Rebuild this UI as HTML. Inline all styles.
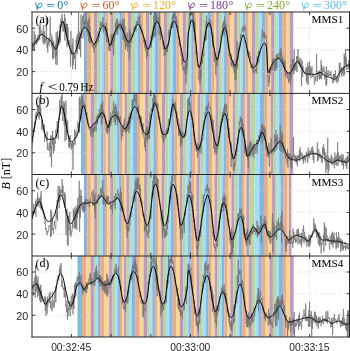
<!DOCTYPE html>
<html><head><meta charset="utf-8"><style>
html,body{margin:0;padding:0;background:#fff;}
body{width:350px;height:351px;position:relative;overflow:hidden;}
</style></head><body>
<svg width="350" height="351" viewBox="0 0 350 351" style="position:absolute;left:0;top:0;will-change:transform">
<defs>
<clipPath id="ca"><rect x="32.0" y="12.0" width="317.5" height="81.25"/></clipPath>
<clipPath id="cb"><rect x="32.0" y="93.25" width="317.5" height="81.25"/></clipPath>
<clipPath id="cc"><rect x="32.0" y="174.5" width="317.5" height="81.25"/></clipPath>
<clipPath id="cd"><rect x="32.0" y="255.75" width="317.5" height="81.25"/></clipPath>
</defs>
<rect x="84" y="12.0" width="3.1" height="81.25" fill="#80b8de"/>
<rect x="87.1" y="12.0" width="3.9" height="81.25" fill="#eca98c"/>
<rect x="90.9" y="12.0" width="3" height="81.25" fill="#f6d890"/>
<rect x="93.9" y="12.0" width="3.2" height="81.25" fill="#be97c6"/>
<rect x="97.1" y="12.0" width="3.3" height="81.25" fill="#bbd698"/>
<rect x="100.3" y="12.0" width="3.2" height="81.25" fill="#a6def6"/>
<rect x="103.4" y="12.0" width="2" height="81.25" fill="#80b8de"/>
<rect x="105.4" y="12.0" width="2.9" height="81.25" fill="#eca98c"/>
<rect x="108.3" y="12.0" width="2" height="81.25" fill="#f6d890"/>
<rect x="110.3" y="12.0" width="2.8" height="81.25" fill="#be97c6"/>
<rect x="113.1" y="12.0" width="3.5" height="81.25" fill="#bbd698"/>
<rect x="116.5" y="12.0" width="3.1" height="81.25" fill="#a6def6"/>
<rect x="119.6" y="12.0" width="2.9" height="81.25" fill="#80b8de"/>
<rect x="122.4" y="12.0" width="2.9" height="81.25" fill="#eca98c"/>
<rect x="125.3" y="12.0" width="2.5" height="81.25" fill="#f6d890"/>
<rect x="127.8" y="12.0" width="3.3" height="81.25" fill="#be97c6"/>
<rect x="131" y="12.0" width="4" height="81.25" fill="#bbd698"/>
<rect x="135" y="12.0" width="3" height="81.25" fill="#a6def6"/>
<rect x="137.9" y="12.0" width="2.2" height="81.25" fill="#80b8de"/>
<rect x="140.1" y="12.0" width="3.5" height="81.25" fill="#eca98c"/>
<rect x="143.6" y="12.0" width="2.5" height="81.25" fill="#f6d890"/>
<rect x="146" y="12.0" width="3.4" height="81.25" fill="#be97c6"/>
<rect x="149.3" y="12.0" width="3.2" height="81.25" fill="#bbd698"/>
<rect x="152.5" y="12.0" width="2.6" height="81.25" fill="#a6def6"/>
<rect x="155.1" y="12.0" width="3.5" height="81.25" fill="#80b8de"/>
<rect x="158.6" y="12.0" width="2.6" height="81.25" fill="#eca98c"/>
<rect x="161.2" y="12.0" width="2.5" height="81.25" fill="#f6d890"/>
<rect x="163.7" y="12.0" width="3.3" height="81.25" fill="#be97c6"/>
<rect x="166.9" y="12.0" width="3.5" height="81.25" fill="#bbd698"/>
<rect x="170.3" y="12.0" width="2.6" height="81.25" fill="#a6def6"/>
<rect x="172.9" y="12.0" width="3.5" height="81.25" fill="#80b8de"/>
<rect x="176.3" y="12.0" width="3.2" height="81.25" fill="#eca98c"/>
<rect x="179.5" y="12.0" width="3.5" height="81.25" fill="#f6d890"/>
<rect x="182.9" y="12.0" width="3.3" height="81.25" fill="#be97c6"/>
<rect x="186.2" y="12.0" width="2.9" height="81.25" fill="#bbd698"/>
<rect x="189" y="12.0" width="2.4" height="81.25" fill="#a6def6"/>
<rect x="191.3" y="12.0" width="2.3" height="81.25" fill="#80b8de"/>
<rect x="193.6" y="12.0" width="2.9" height="81.25" fill="#eca98c"/>
<rect x="196.4" y="12.0" width="3" height="81.25" fill="#f6d890"/>
<rect x="199.3" y="12.0" width="2.8" height="81.25" fill="#be97c6"/>
<rect x="202.1" y="12.0" width="3.3" height="81.25" fill="#bbd698"/>
<rect x="205.3" y="12.0" width="2.6" height="81.25" fill="#a6def6"/>
<rect x="207.9" y="12.0" width="3.5" height="81.25" fill="#80b8de"/>
<rect x="211.3" y="12.0" width="2.7" height="81.25" fill="#eca98c"/>
<rect x="214" y="12.0" width="2.2" height="81.25" fill="#f6d890"/>
<rect x="216.2" y="12.0" width="2.7" height="81.25" fill="#be97c6"/>
<rect x="218.8" y="12.0" width="3" height="81.25" fill="#bbd698"/>
<rect x="221.8" y="12.0" width="2.3" height="81.25" fill="#a6def6"/>
<rect x="224.1" y="12.0" width="2.8" height="81.25" fill="#80b8de"/>
<rect x="226.8" y="12.0" width="3.7" height="81.25" fill="#eca98c"/>
<rect x="230.5" y="12.0" width="3.7" height="81.25" fill="#f6d890"/>
<rect x="234.2" y="12.0" width="3" height="81.25" fill="#be97c6"/>
<rect x="237.2" y="12.0" width="3.4" height="81.25" fill="#bbd698"/>
<rect x="240.5" y="12.0" width="2.4" height="81.25" fill="#a6def6"/>
<rect x="242.8" y="12.0" width="2.8" height="81.25" fill="#80b8de"/>
<rect x="245.6" y="12.0" width="3" height="81.25" fill="#eca98c"/>
<rect x="248.6" y="12.0" width="3.5" height="81.25" fill="#f6d890"/>
<rect x="252" y="12.0" width="3.5" height="81.25" fill="#be97c6"/>
<rect x="255.4" y="12.0" width="3.5" height="81.25" fill="#bbd698"/>
<rect x="258.9" y="12.0" width="3" height="81.25" fill="#a6def6"/>
<rect x="261.9" y="12.0" width="3.5" height="81.25" fill="#80b8de"/>
<rect x="265.3" y="12.0" width="2.9" height="81.25" fill="#eca98c"/>
<rect x="268.1" y="12.0" width="3" height="81.25" fill="#f6d890"/>
<rect x="271.1" y="12.0" width="3" height="81.25" fill="#be97c6"/>
<rect x="274.1" y="12.0" width="2.2" height="81.25" fill="#bbd698"/>
<rect x="276.3" y="12.0" width="2.6" height="81.25" fill="#a6def6"/>
<rect x="278.9" y="12.0" width="3.5" height="81.25" fill="#80b8de"/>
<rect x="282.3" y="12.0" width="3.9" height="81.25" fill="#eca98c"/>
<rect x="286.1" y="12.0" width="3.5" height="81.25" fill="#f6d890"/>
<rect x="289.6" y="12.0" width="3.7" height="81.25" fill="#be97c6"/>
<rect x="81" y="93.25" width="4" height="81.25" fill="#80b8de"/>
<rect x="85" y="93.25" width="2.6" height="81.25" fill="#eca98c"/>
<rect x="87.6" y="93.25" width="3" height="81.25" fill="#f6d890"/>
<rect x="90.6" y="93.25" width="3.5" height="81.25" fill="#be97c6"/>
<rect x="94" y="93.25" width="3.5" height="81.25" fill="#bbd698"/>
<rect x="97.4" y="93.25" width="3.2" height="81.25" fill="#a6def6"/>
<rect x="100.6" y="93.25" width="2.9" height="81.25" fill="#80b8de"/>
<rect x="103.4" y="93.25" width="2.4" height="81.25" fill="#eca98c"/>
<rect x="105.8" y="93.25" width="2.3" height="81.25" fill="#f6d890"/>
<rect x="108.1" y="93.25" width="2.3" height="81.25" fill="#be97c6"/>
<rect x="110.3" y="93.25" width="3.5" height="81.25" fill="#bbd698"/>
<rect x="113.7" y="93.25" width="3.4" height="81.25" fill="#a6def6"/>
<rect x="117.1" y="93.25" width="2.7" height="81.25" fill="#80b8de"/>
<rect x="119.7" y="93.25" width="2.6" height="81.25" fill="#eca98c"/>
<rect x="122.3" y="93.25" width="2.7" height="81.25" fill="#f6d890"/>
<rect x="124.9" y="93.25" width="2.2" height="81.25" fill="#be97c6"/>
<rect x="127.1" y="93.25" width="3" height="81.25" fill="#bbd698"/>
<rect x="130.1" y="93.25" width="3" height="81.25" fill="#a6def6"/>
<rect x="133.1" y="93.25" width="4" height="81.25" fill="#80b8de"/>
<rect x="137" y="93.25" width="3.5" height="81.25" fill="#eca98c"/>
<rect x="140.4" y="93.25" width="4.7" height="81.25" fill="#f6d890"/>
<rect x="145.1" y="93.25" width="3.5" height="81.25" fill="#be97c6"/>
<rect x="148.6" y="93.25" width="2.3" height="81.25" fill="#bbd698"/>
<rect x="150.8" y="93.25" width="2.6" height="81.25" fill="#a6def6"/>
<rect x="153.4" y="93.25" width="2.6" height="81.25" fill="#80b8de"/>
<rect x="156" y="93.25" width="2.6" height="81.25" fill="#eca98c"/>
<rect x="158.6" y="93.25" width="3.5" height="81.25" fill="#f6d890"/>
<rect x="162" y="93.25" width="3.5" height="81.25" fill="#be97c6"/>
<rect x="165.4" y="93.25" width="3" height="81.25" fill="#bbd698"/>
<rect x="168.4" y="93.25" width="3" height="81.25" fill="#a6def6"/>
<rect x="171.4" y="93.25" width="3" height="81.25" fill="#80b8de"/>
<rect x="174.4" y="93.25" width="2.8" height="81.25" fill="#eca98c"/>
<rect x="177.2" y="93.25" width="3" height="81.25" fill="#f6d890"/>
<rect x="180.1" y="93.25" width="3" height="81.25" fill="#be97c6"/>
<rect x="183.1" y="93.25" width="3.5" height="81.25" fill="#bbd698"/>
<rect x="186.6" y="93.25" width="3" height="81.25" fill="#a6def6"/>
<rect x="189.6" y="93.25" width="2.5" height="81.25" fill="#80b8de"/>
<rect x="192.1" y="93.25" width="3" height="81.25" fill="#eca98c"/>
<rect x="195.1" y="93.25" width="2.6" height="81.25" fill="#f6d890"/>
<rect x="197.7" y="93.25" width="2.7" height="81.25" fill="#be97c6"/>
<rect x="200.3" y="93.25" width="2.8" height="81.25" fill="#bbd698"/>
<rect x="203.1" y="93.25" width="3" height="81.25" fill="#a6def6"/>
<rect x="206" y="93.25" width="3" height="81.25" fill="#80b8de"/>
<rect x="209" y="93.25" width="3.5" height="81.25" fill="#eca98c"/>
<rect x="212.4" y="93.25" width="3" height="81.25" fill="#f6d890"/>
<rect x="215.4" y="93.25" width="2.6" height="81.25" fill="#be97c6"/>
<rect x="218" y="93.25" width="3" height="81.25" fill="#bbd698"/>
<rect x="221" y="93.25" width="2.6" height="81.25" fill="#a6def6"/>
<rect x="223.6" y="93.25" width="2.6" height="81.25" fill="#80b8de"/>
<rect x="226.2" y="93.25" width="3.3" height="81.25" fill="#eca98c"/>
<rect x="229.4" y="93.25" width="3.3" height="81.25" fill="#f6d890"/>
<rect x="232.7" y="93.25" width="2.7" height="81.25" fill="#be97c6"/>
<rect x="235.3" y="93.25" width="2.6" height="81.25" fill="#bbd698"/>
<rect x="237.9" y="93.25" width="2.5" height="81.25" fill="#a6def6"/>
<rect x="240.4" y="93.25" width="2.6" height="81.25" fill="#80b8de"/>
<rect x="243" y="93.25" width="2.6" height="81.25" fill="#eca98c"/>
<rect x="245.6" y="93.25" width="1.6" height="81.25" fill="#f6d890"/>
<rect x="247.1" y="93.25" width="3.3" height="81.25" fill="#be97c6"/>
<rect x="250.3" y="93.25" width="4.8" height="81.25" fill="#bbd698"/>
<rect x="255.1" y="93.25" width="4.8" height="81.25" fill="#a6def6"/>
<rect x="259.9" y="93.25" width="4.3" height="81.25" fill="#80b8de"/>
<rect x="264.1" y="93.25" width="3.5" height="81.25" fill="#eca98c"/>
<rect x="267.6" y="93.25" width="3" height="81.25" fill="#f6d890"/>
<rect x="270.6" y="93.25" width="2.5" height="81.25" fill="#be97c6"/>
<rect x="273.1" y="93.25" width="3.1" height="81.25" fill="#bbd698"/>
<rect x="276.2" y="93.25" width="3.2" height="81.25" fill="#a6def6"/>
<rect x="279.3" y="93.25" width="3.6" height="81.25" fill="#80b8de"/>
<rect x="282.9" y="93.25" width="3.3" height="81.25" fill="#eca98c"/>
<rect x="286.1" y="93.25" width="3.3" height="81.25" fill="#f6d890"/>
<rect x="289.4" y="93.25" width="3.7" height="81.25" fill="#be97c6"/>
<rect x="83.9" y="174.5" width="3.4" height="81.25" fill="#80b8de"/>
<rect x="87.3" y="174.5" width="3.5" height="81.25" fill="#eca98c"/>
<rect x="90.7" y="174.5" width="3.4" height="81.25" fill="#f6d890"/>
<rect x="94.1" y="174.5" width="3" height="81.25" fill="#be97c6"/>
<rect x="97.1" y="174.5" width="3" height="81.25" fill="#bbd698"/>
<rect x="100.1" y="174.5" width="2.7" height="81.25" fill="#a6def6"/>
<rect x="102.7" y="174.5" width="2.3" height="81.25" fill="#80b8de"/>
<rect x="104.9" y="174.5" width="2.2" height="81.25" fill="#eca98c"/>
<rect x="107.1" y="174.5" width="3" height="81.25" fill="#f6d890"/>
<rect x="110.1" y="174.5" width="3" height="81.25" fill="#be97c6"/>
<rect x="113.1" y="174.5" width="3" height="81.25" fill="#bbd698"/>
<rect x="116.1" y="174.5" width="3" height="81.25" fill="#a6def6"/>
<rect x="119.1" y="174.5" width="2.3" height="81.25" fill="#80b8de"/>
<rect x="121.3" y="174.5" width="2.7" height="81.25" fill="#eca98c"/>
<rect x="123.9" y="174.5" width="2.5" height="81.25" fill="#f6d890"/>
<rect x="126.4" y="174.5" width="3" height="81.25" fill="#be97c6"/>
<rect x="129.4" y="174.5" width="2.3" height="81.25" fill="#bbd698"/>
<rect x="131.7" y="174.5" width="2.7" height="81.25" fill="#a6def6"/>
<rect x="134.3" y="174.5" width="3" height="81.25" fill="#80b8de"/>
<rect x="137.3" y="174.5" width="3.4" height="81.25" fill="#eca98c"/>
<rect x="140.7" y="174.5" width="3.5" height="81.25" fill="#f6d890"/>
<rect x="144.1" y="174.5" width="3" height="81.25" fill="#be97c6"/>
<rect x="147.1" y="174.5" width="3" height="81.25" fill="#bbd698"/>
<rect x="150.1" y="174.5" width="2.6" height="81.25" fill="#a6def6"/>
<rect x="152.7" y="174.5" width="3.2" height="81.25" fill="#80b8de"/>
<rect x="155.8" y="174.5" width="2.6" height="81.25" fill="#eca98c"/>
<rect x="158.4" y="174.5" width="3" height="81.25" fill="#f6d890"/>
<rect x="161.4" y="174.5" width="3" height="81.25" fill="#be97c6"/>
<rect x="164.4" y="174.5" width="3" height="81.25" fill="#bbd698"/>
<rect x="167.4" y="174.5" width="3.5" height="81.25" fill="#a6def6"/>
<rect x="170.9" y="174.5" width="3" height="81.25" fill="#80b8de"/>
<rect x="173.9" y="174.5" width="3" height="81.25" fill="#eca98c"/>
<rect x="176.9" y="174.5" width="3" height="81.25" fill="#f6d890"/>
<rect x="179.9" y="174.5" width="2.3" height="81.25" fill="#be97c6"/>
<rect x="182.2" y="174.5" width="3" height="81.25" fill="#bbd698"/>
<rect x="185.1" y="174.5" width="3" height="81.25" fill="#a6def6"/>
<rect x="188.1" y="174.5" width="3" height="81.25" fill="#80b8de"/>
<rect x="191.1" y="174.5" width="3" height="81.25" fill="#eca98c"/>
<rect x="194.1" y="174.5" width="2.3" height="81.25" fill="#f6d890"/>
<rect x="196.3" y="174.5" width="3" height="81.25" fill="#be97c6"/>
<rect x="199.3" y="174.5" width="3.4" height="81.25" fill="#bbd698"/>
<rect x="202.7" y="174.5" width="3.5" height="81.25" fill="#a6def6"/>
<rect x="206.1" y="174.5" width="3.1" height="81.25" fill="#80b8de"/>
<rect x="209.2" y="174.5" width="2.8" height="81.25" fill="#eca98c"/>
<rect x="211.9" y="174.5" width="2.5" height="81.25" fill="#f6d890"/>
<rect x="214.4" y="174.5" width="3" height="81.25" fill="#be97c6"/>
<rect x="217.4" y="174.5" width="3" height="81.25" fill="#bbd698"/>
<rect x="220.4" y="174.5" width="2.2" height="81.25" fill="#a6def6"/>
<rect x="222.6" y="174.5" width="2.5" height="81.25" fill="#80b8de"/>
<rect x="225.1" y="174.5" width="3.5" height="81.25" fill="#eca98c"/>
<rect x="228.6" y="174.5" width="3" height="81.25" fill="#f6d890"/>
<rect x="231.5" y="174.5" width="2.7" height="81.25" fill="#be97c6"/>
<rect x="234.2" y="174.5" width="2.8" height="81.25" fill="#bbd698"/>
<rect x="236.9" y="174.5" width="2.1" height="81.25" fill="#a6def6"/>
<rect x="239" y="174.5" width="3" height="81.25" fill="#80b8de"/>
<rect x="242" y="174.5" width="2.1" height="81.25" fill="#eca98c"/>
<rect x="244.1" y="174.5" width="2.3" height="81.25" fill="#f6d890"/>
<rect x="246.3" y="174.5" width="3" height="81.25" fill="#be97c6"/>
<rect x="249.3" y="174.5" width="5.1" height="81.25" fill="#bbd698"/>
<rect x="254.4" y="174.5" width="5" height="81.25" fill="#a6def6"/>
<rect x="259.3" y="174.5" width="4.7" height="81.25" fill="#80b8de"/>
<rect x="264" y="174.5" width="3.9" height="81.25" fill="#eca98c"/>
<rect x="267.9" y="174.5" width="4.3" height="81.25" fill="#f6d890"/>
<rect x="272.1" y="174.5" width="3" height="81.25" fill="#be97c6"/>
<rect x="275.1" y="174.5" width="2.4" height="81.25" fill="#bbd698"/>
<rect x="277.5" y="174.5" width="3" height="81.25" fill="#a6def6"/>
<rect x="280.5" y="174.5" width="2.9" height="81.25" fill="#80b8de"/>
<rect x="283.3" y="174.5" width="4.1" height="81.25" fill="#eca98c"/>
<rect x="287.4" y="174.5" width="1.7" height="81.25" fill="#f6d890"/>
<rect x="289" y="174.5" width="2.4" height="81.25" fill="#be97c6"/>
<rect x="77.5" y="255.75" width="4.5" height="81.25" fill="#80b8de"/>
<rect x="82" y="255.75" width="4.3" height="81.25" fill="#eca98c"/>
<rect x="86.3" y="255.75" width="4.3" height="81.25" fill="#f6d890"/>
<rect x="90.6" y="255.75" width="3.3" height="81.25" fill="#be97c6"/>
<rect x="93.8" y="255.75" width="2" height="81.25" fill="#bbd698"/>
<rect x="95.7" y="255.75" width="2.1" height="81.25" fill="#a6def6"/>
<rect x="97.8" y="255.75" width="2.3" height="81.25" fill="#80b8de"/>
<rect x="100.1" y="255.75" width="4.4" height="81.25" fill="#eca98c"/>
<rect x="104.4" y="255.75" width="4.7" height="81.25" fill="#f6d890"/>
<rect x="109.1" y="255.75" width="3.5" height="81.25" fill="#be97c6"/>
<rect x="112.6" y="255.75" width="2.5" height="81.25" fill="#bbd698"/>
<rect x="115.1" y="255.75" width="2.7" height="81.25" fill="#a6def6"/>
<rect x="117.7" y="255.75" width="2.3" height="81.25" fill="#80b8de"/>
<rect x="119.9" y="255.75" width="2.3" height="81.25" fill="#eca98c"/>
<rect x="122.2" y="255.75" width="1.8" height="81.25" fill="#f6d890"/>
<rect x="124" y="255.75" width="2.5" height="81.25" fill="#be97c6"/>
<rect x="126.4" y="255.75" width="2.6" height="81.25" fill="#bbd698"/>
<rect x="129" y="255.75" width="3" height="81.25" fill="#a6def6"/>
<rect x="132" y="255.75" width="3.5" height="81.25" fill="#80b8de"/>
<rect x="135.4" y="255.75" width="4.3" height="81.25" fill="#eca98c"/>
<rect x="139.7" y="255.75" width="4" height="81.25" fill="#f6d890"/>
<rect x="143.6" y="255.75" width="3.5" height="81.25" fill="#be97c6"/>
<rect x="147" y="255.75" width="2.7" height="81.25" fill="#bbd698"/>
<rect x="149.7" y="255.75" width="2.7" height="81.25" fill="#a6def6"/>
<rect x="152.3" y="255.75" width="2.6" height="81.25" fill="#80b8de"/>
<rect x="154.9" y="255.75" width="2.5" height="81.25" fill="#eca98c"/>
<rect x="157.4" y="255.75" width="3" height="81.25" fill="#f6d890"/>
<rect x="160.4" y="255.75" width="2.6" height="81.25" fill="#be97c6"/>
<rect x="163" y="255.75" width="3" height="81.25" fill="#bbd698"/>
<rect x="166" y="255.75" width="3.5" height="81.25" fill="#a6def6"/>
<rect x="169.4" y="255.75" width="3.3" height="81.25" fill="#80b8de"/>
<rect x="172.7" y="255.75" width="3.4" height="81.25" fill="#eca98c"/>
<rect x="176" y="255.75" width="4" height="81.25" fill="#f6d890"/>
<rect x="179.9" y="255.75" width="3.5" height="81.25" fill="#be97c6"/>
<rect x="183.3" y="255.75" width="2.6" height="81.25" fill="#bbd698"/>
<rect x="185.9" y="255.75" width="2.5" height="81.25" fill="#a6def6"/>
<rect x="188.4" y="255.75" width="2.6" height="81.25" fill="#80b8de"/>
<rect x="191" y="255.75" width="3" height="81.25" fill="#eca98c"/>
<rect x="194" y="255.75" width="2.6" height="81.25" fill="#f6d890"/>
<rect x="196.6" y="255.75" width="3" height="81.25" fill="#be97c6"/>
<rect x="199.5" y="255.75" width="3.2" height="81.25" fill="#bbd698"/>
<rect x="202.7" y="255.75" width="3.5" height="81.25" fill="#a6def6"/>
<rect x="206.1" y="255.75" width="2.6" height="81.25" fill="#80b8de"/>
<rect x="208.7" y="255.75" width="3" height="81.25" fill="#eca98c"/>
<rect x="211.7" y="255.75" width="3" height="81.25" fill="#f6d890"/>
<rect x="214.7" y="255.75" width="2.7" height="81.25" fill="#be97c6"/>
<rect x="217.3" y="255.75" width="2.2" height="81.25" fill="#bbd698"/>
<rect x="219.5" y="255.75" width="2.5" height="81.25" fill="#a6def6"/>
<rect x="221.9" y="255.75" width="2.5" height="81.25" fill="#80b8de"/>
<rect x="224.4" y="255.75" width="3" height="81.25" fill="#eca98c"/>
<rect x="227.3" y="255.75" width="3" height="81.25" fill="#f6d890"/>
<rect x="230.3" y="255.75" width="3" height="81.25" fill="#be97c6"/>
<rect x="233.3" y="255.75" width="3" height="81.25" fill="#bbd698"/>
<rect x="236.3" y="255.75" width="3" height="81.25" fill="#a6def6"/>
<rect x="239.3" y="255.75" width="3" height="81.25" fill="#80b8de"/>
<rect x="242.3" y="255.75" width="3.4" height="81.25" fill="#eca98c"/>
<rect x="245.7" y="255.75" width="3.2" height="81.25" fill="#f6d890"/>
<rect x="248.8" y="255.75" width="3.1" height="81.25" fill="#be97c6"/>
<rect x="251.9" y="255.75" width="3.5" height="81.25" fill="#bbd698"/>
<rect x="255.3" y="255.75" width="3" height="81.25" fill="#a6def6"/>
<rect x="258.3" y="255.75" width="3.4" height="81.25" fill="#80b8de"/>
<rect x="261.7" y="255.75" width="4" height="81.25" fill="#eca98c"/>
<rect x="265.6" y="255.75" width="3.8" height="81.25" fill="#f6d890"/>
<rect x="269.4" y="255.75" width="3.5" height="81.25" fill="#be97c6"/>
<rect x="272.9" y="255.75" width="3.2" height="81.25" fill="#bbd698"/>
<rect x="276" y="255.75" width="3" height="81.25" fill="#a6def6"/>
<rect x="279" y="255.75" width="3.9" height="81.25" fill="#80b8de"/>
<rect x="282.9" y="255.75" width="3.5" height="81.25" fill="#eca98c"/>
<rect x="286.3" y="255.75" width="3.9" height="81.25" fill="#f6d890"/>
<rect x="290.1" y="255.75" width="3.5" height="81.25" fill="#be97c6"/>
<path d="M71.4 12.0V93.25M111.1 12.0V93.25M150.8 12.0V93.25M190.5 12.0V93.25M230.2 12.0V93.25M269.9 12.0V93.25M309.6 12.0V93.25M32.0 71.6H349.5M32.0 49.9H349.5M32.0 28.2H349.5" stroke="#d6d6d6" stroke-width="0.9" stroke-dasharray="1 2" fill="none"/>
<path d="M71.4 93.25V174.5M111.1 93.25V174.5M150.8 93.25V174.5M190.5 93.25V174.5M230.2 93.25V174.5M269.9 93.25V174.5M309.6 93.25V174.5M32.0 152.8H349.5M32.0 131.2H349.5M32.0 109.5H349.5" stroke="#d6d6d6" stroke-width="0.9" stroke-dasharray="1 2" fill="none"/>
<path d="M71.4 174.5V255.75M111.1 174.5V255.75M150.8 174.5V255.75M190.5 174.5V255.75M230.2 174.5V255.75M269.9 174.5V255.75M309.6 174.5V255.75M32.0 234.1H349.5M32.0 212.4H349.5M32.0 190.8H349.5" stroke="#d6d6d6" stroke-width="0.9" stroke-dasharray="1 2" fill="none"/>
<path d="M71.4 255.75V337.0M111.1 255.75V337.0M150.8 255.75V337.0M190.5 255.75V337.0M230.2 255.75V337.0M269.9 255.75V337.0M309.6 255.75V337.0M32.0 315.3H349.5M32.0 293.7H349.5M32.0 272H349.5" stroke="#d6d6d6" stroke-width="0.9" stroke-dasharray="1 2" fill="none"/>
<path d="M32 46.9 32.4 42.6 32.7 50.8 33.1 42.4 33.4 48.9 33.8 46.1 34.1 30.7 34.5 51.2 34.8 40.5 35.2 42.4 35.5 34.8 35.9 44 36.2 40 36.6 44.6 36.9 38.3 37.3 41.8 37.6 42.5 38 34.9 38.3 41.2 38.7 39.6 39 38.3 39.4 26.6 39.7 39.9 40.1 22.3 40.4 31.2 40.8 36 41.1 30.1 41.5 31 41.8 31.7 42.2 31.6 42.5 36.6 42.9 42.4 43.2 25.4 43.6 27.6 43.9 44.5 44.3 31.3 44.6 42.3 45 43.9 45.3 38.5 45.7 37.2 46 41.7 46.4 17.7 46.7 42.4 47.1 48.3 47.4 42.4 47.8 52.8 48.1 37.9 48.5 43.6 48.8 40.8 49.2 45.7 49.5 37.2 49.9 41.1 50.2 16.5 50.6 35.7 50.9 33.3 51.3 42.8 51.6 47.2 52 36 52.3 48 52.7 58.6 53 39.5 53.4 59.1 53.7 41.9 54.1 49.7 54.4 47 54.8 49.5 55.1 57.6 55.5 44.5 55.8 64.4 56.2 32.2 56.5 55.7 56.9 38.5 57.2 65.3 57.6 30.9 57.9 46.2 58.3 40.3 58.6 37.6 59 45 59.3 37.5 59.7 41.8 60 24.8 60.4 42.6 60.7 30.9 61.1 18.3 61.4 26.8 61.8 24.3 62.1 14 62.5 21.7 62.8 31.2 63.2 25.5 63.5 21.1 63.9 32 64.2 28.6 64.6 13.9 64.9 40.6 65.3 18.1 65.6 33.4 66 24.3 66.3 36.3 66.7 23.7 67 47.1 67.4 24 67.7 44.2 68.1 27.8 68.4 45.2 68.8 42.8 69.1 40.4 69.5 47 69.8 46.3 70.2 46.5 70.5 66.4 70.9 31.1 71.2 55.1 71.6 50.5 71.9 51 72.3 44.2 72.6 69.3 73 38.4 73.3 65.2 73.7 51.5 74 58.6 74.4 55.4 74.7 58.7 75.1 54.3 75.4 70 75.8 59.7 76.1 39.7 76.5 50 76.8 36.5 77.2 54.2 77.5 34.5 77.9 33.5 78.2 42.6 78.6 12.6 78.9 49 79.3 31.6 79.6 49.8 80 40.1 80.3 33.2 80.7 57.3 81 14.5 81.4 38.3 81.7 28.5 82.1 21 82.4 21.6 82.8 16 83.1 38.2 83.5 13.7 83.8 29.2 84.2 21.9 84.5 25.2 84.9 21.5 85.2 24 85.6 22.2 85.9 13 86.3 26.7 86.6 19.6 87 32 87.3 25.1 87.7 21.9 88 36 88.4 20.4 88.7 41 89.1 17.4 89.4 42.7 89.8 26.2 90.1 43.1 90.5 32.1 90.8 43.2 91.2 37.9 91.5 42.7 91.9 43.5 92.2 46.8 92.6 47.1 92.9 45.4 93.3 44.2 93.6 49.9 94 44.9 94.3 52.8 94.7 46.7 95 46.2 95.4 47.4 95.7 41.3 96.1 46.1 96.4 43.6 96.8 40 97.1 43.9 97.5 41.6 97.8 40.8 98.2 31.6 98.5 41.9 98.9 33.9 99.2 36.5 99.6 27.4 99.9 29.9 100.3 21.5 100.6 22.2 101 25.7 101.3 24 101.7 26 102 22.1 102.4 25.3 102.7 16.9 103.1 17.6 103.4 32.5 103.8 22.7 104.1 27.5 104.5 29.7 104.8 26.4 105.2 26.6 105.5 26.7 105.9 36.2 106.2 22.4 106.6 42.2 106.9 27.2 107.3 37.8 107.6 41.6 108 40.2 108.3 43.2 108.7 50.9 109 44.7 109.4 48.4 109.7 43.8 110.1 51.3 110.4 45.2 110.8 42.6 111.1 33.9 111.5 44.7 111.8 38.5 112.2 35.8 112.5 45.8 112.9 34.2 113.2 34.7 113.6 55.3 113.9 33 114.3 41.6 114.6 38.3 115 36.8 115.3 24.3 115.7 35.1 116 21.9 116.4 28.9 116.7 19.5 117.1 32.6 117.4 18.4 117.8 34.8 118.1 26.5 118.5 26.8 118.8 22.6 119.2 27.9 119.5 27.3 119.9 29.2 120.2 20 120.6 23.1 120.9 29.9 121.3 23.7 121.6 27.8 122 29 122.3 31.5 122.7 18.9 123 39.5 123.4 20.4 123.7 39.4 124.1 18.4 124.4 42.2 124.8 39.7 125.1 26.3 125.5 49.4 125.8 34.7 126.2 46.7 126.5 42.4 126.9 44.5 127.2 32.5 127.6 51.5 127.9 43.4 128.3 46.4 128.6 44.4 129 39.4 129.3 59.3 129.7 28.2 130 49.4 130.4 32.4 130.7 37.6 131.1 37.3 131.4 42.6 131.8 34 132.1 34.1 132.5 37 132.8 35.3 133.2 34.4 133.5 28.2 133.9 27.8 134.2 28.8 134.6 26.5 134.9 30 135.3 28.2 135.6 24.8 136 31.6 136.3 21 136.7 23.4 137 21.1 137.4 20.7 137.7 24 138.1 16.7 138.4 20 138.8 19.7 139.1 20.2 139.5 23.9 139.8 15.6 140.2 29.3 140.5 24.5 140.9 24.1 141.2 33.1 141.6 33.1 141.9 29.1 142.3 31.5 142.6 31.9 143 34.1 143.3 36 143.7 42.1 144 42.6 144.4 38.6 144.7 47.5 145.1 40 145.4 50.6 145.8 48.4 146.1 47.4 146.5 58.5 146.8 49.3 147.2 48.8 147.5 56.1 147.9 55.3 148.2 51.4 148.6 47.8 148.9 46.6 149.3 49 149.6 46.7 150 45.9 150.3 41.8 150.7 45.3 151 36 151.4 47.8 151.7 35.8 152.1 33 152.4 40.5 152.8 37.7 153.1 26.7 153.5 37.8 153.8 15.5 154.2 36.4 154.5 5.9 154.9 29.5 155.2 9.7 155.6 36.3 155.9 12.2 156.3 21.4 156.6 18.2 157 13.8 157.3 20.1 157.7 23.7 158 21.1 158.4 17 158.7 21 159.1 35 159.4 9.6 159.8 27.1 160.1 27.8 160.5 39.9 160.8 27.2 161.2 34.5 161.5 33.8 161.9 35.8 162.2 36.4 162.6 44.9 162.9 41.1 163.3 49.3 163.6 45.4 164 48.4 164.3 56.2 164.7 45.6 165 48.4 165.4 53.7 165.7 55.2 166.1 49.7 166.4 47.9 166.8 52.3 167.1 45.7 167.5 51.5 167.8 43.8 168.2 43.2 168.5 46.3 168.9 29.7 169.2 36.4 169.6 32.2 169.9 31.8 170.3 27.3 170.6 27.7 171 23.4 171.3 27.4 171.7 21 172 25.6 172.4 15.4 172.7 28.1 173.1 14.4 173.4 19.7 173.8 14.6 174.1 11 174.5 18.7 174.8 13.2 175.2 15.7 175.5 21.1 175.9 21.8 176.2 16 176.6 23.9 176.9 20.4 177.3 28.2 177.6 29.9 178 25.3 178.3 38.7 178.7 37.5 179 35.7 179.4 45.8 179.7 39.7 180.1 46.2 180.4 46.2 180.8 53.4 181.1 55.6 181.5 53.8 181.8 64.7 182.2 63.6 182.5 58.2 182.9 70.6 183.2 69.7 183.6 67.1 183.9 69.7 184.3 66.1 184.6 72.8 185 73.8 185.3 66.7 185.7 62 186 83.3 186.4 61.4 186.7 74.3 187.1 63.2 187.4 67.4 187.8 55.9 188.1 32 188.5 35.6 188.8 24.6 189.2 20.5 189.5 13.8 189.9 23.2 190.2 10.4 190.6 15.4 190.9 1.4 191.3 15.3 191.6 7.1 192 15.2 192.3 11.4 192.7 10.4 193 25.8 193.4 8.3 193.7 31.5 194.1 19.3 194.4 40.8 194.8 22.4 195.1 37.3 195.5 33.9 195.8 50.2 196.2 54.3 196.5 48.1 196.9 56 197.2 64.9 197.6 66.1 197.9 65.3 198.3 78.6 198.6 77.3 199 79.6 199.3 81 199.7 66.1 200 84.6 200.4 76 200.7 70 201.1 78.5 201.4 57.3 201.8 64.3 202.1 59.6 202.5 63.2 202.8 55.7 203.2 53.2 203.5 54.7 203.9 56.3 204.2 36.1 204.6 39.2 204.9 40.8 205.3 32.2 205.6 40.5 206 21 206.3 40.1 206.7 15.5 207 28.3 207.4 25.2 207.7 22.6 208.1 23.2 208.4 26 208.8 21.8 209.1 23.7 209.5 18.7 209.8 27.5 210.2 22.1 210.5 21.7 210.9 20.4 211.2 22.4 211.6 29.2 211.9 29.9 212.3 33.5 212.6 46.3 213 33.5 213.3 39.7 213.7 47.9 214 48.6 214.4 61.9 214.7 52.6 215.1 59.4 215.4 56.9 215.8 75.2 216.1 57.4 216.5 66.5 216.8 58.4 217.2 65.1 217.5 58.6 217.9 60.4 218.2 56.1 218.6 50.5 218.9 53.7 219.3 51.2 219.6 53.2 220 51 220.3 46.4 220.7 43.7 221 35 221.4 34.2 221.7 32.7 222.1 30.2 222.4 30.3 222.8 23.1 223.1 33.4 223.5 25.1 223.8 21.2 224.2 36.2 224.5 16.4 224.9 28.3 225.2 27.8 225.6 22.5 225.9 26.7 226.3 25.1 226.6 31.8 227 30.9 227.3 36.7 227.7 40.9 228 45.3 228.4 49.8 228.7 44.1 229.1 55.8 229.4 55.6 229.8 54.7 230.1 56.8 230.5 59.9 230.8 53.7 231.2 66.1 231.5 57.4 231.9 66.6 232.2 62.7 232.6 61.4 232.9 63.8 233.3 68.4 233.6 60.3 234 72.9 234.3 71.9 234.7 64.1 235 80.5 235.4 78.6 235.7 65.4 236.1 79.9 236.4 59.6 236.8 69.8 237.1 41.2 237.5 67.4 237.8 47.7 238.2 59.3 238.5 50.7 238.9 51.2 239.2 45.4 239.6 50.8 239.9 42.3 240.3 45.7 240.6 34.1 241 36.4 241.3 35 241.7 29.6 242 28.2 242.4 27.7 242.7 26.6 243.1 31.7 243.4 27.4 243.8 30.2 244.1 27.7 244.5 31 244.8 24.9 245.2 28.5 245.5 28.2 245.9 30.4 246.2 36.7 246.6 38 246.9 40.2 247.3 48.9 247.6 55.5 248 50.3 248.3 50.2 248.7 55.2 249 54.6 249.4 54.3 249.7 52.2 250.1 58 250.4 56.3 250.8 62.7 251.1 68.4 251.5 65 251.8 68 252.2 65 252.5 71.2 252.9 63.8 253.2 73 253.6 71.2 253.9 69.1 254.3 70.5 254.6 73.5 255 70.3 255.3 69.4 255.7 71.3 256 68.3 256.4 66.5 256.7 73.4 257.1 56.4 257.4 66 257.8 56.3 258.1 63.5 258.5 51.3 258.8 61.7 259.2 51.1 259.5 51.6 259.9 54.9 260.2 47.3 260.6 46 260.9 44.6 261.3 39.2 261.6 37.6 262 35.7 262.3 29.7 262.7 37.2 263 37.1 263.4 33 263.7 33.9 264.1 38.7 264.4 31.8 264.8 38.6 265.1 34.5 265.5 36.7 265.8 36 266.2 37.6 266.5 40.8 266.9 53.6 267.2 58.8 267.6 67.1 267.9 78.5 268.3 79.4 268.6 86.7 269 75.1 269.3 82.8 269.7 68.3 270 71.2 270.4 74.2 270.7 68.1 271.1 69 271.4 66.7 271.8 70.2 272.1 70.4 272.5 59.6 272.8 68.2 273.2 58.7 273.5 60.3 273.9 57.7 274.2 61 274.6 70.8 274.9 60 275.3 67.1 275.6 59.3 276 70.7 276.3 54 276.7 58.8 277 68.4 277.4 55.1 277.7 60.1 278.1 53.1 278.4 52.9 278.8 57 279.1 58.2 279.5 57.6 279.8 58.9 280.2 49 280.5 57.7 280.9 48 281.2 62.5 281.6 51.1 281.9 58.9 282.3 62.9 282.6 58.1 283 57.4 283.3 66.8 283.7 60 284 68.2 284.4 62 284.7 71.7 285.1 60.7 285.4 76.7 285.8 73.2 286.1 70.7 286.5 74.2 286.8 71 287.2 78.5 287.5 72.8 287.9 75.6 288.2 78.9 288.6 83.2 288.9 73.9 289.3 72.1 289.6 81.2 290 76.7 290.3 72.2 290.7 85.5 291 64.2 291.4 77.4 291.7 72.1 292.1 72.9 292.4 58.7 292.8 68.7 293.1 59.3 293.5 63.3 293.8 74.4 294.2 49.4 294.5 70.7 294.9 65.5 295.2 67.4 295.6 63.1 295.9 71.1 296.3 61 296.6 56.2 297 72.2 297.3 56.3 297.7 60.8 298 49 298.4 63.7 298.7 60.9 299.1 60.2 299.4 66.5 299.8 57.4 300.1 61.7 300.5 64.8 300.8 68.1 301.2 59.3 301.5 86 301.9 67 302.2 60.8 302.6 77 302.9 65.9 303.3 68.6 303.6 68.5 304 70.7 304.3 73.4 304.7 71.9 305 74.2 305.4 74.5 305.7 72.6 306.1 67.3 306.4 81.3 306.8 67.6 307.1 83.6 307.5 72.9 307.8 62.4 308.2 85 308.5 66.5 308.9 72.1 309.2 75.1 309.6 61.4 309.9 75.1 310.3 66.3 310.6 74.4 311 78.3 311.3 68.8 311.7 72.7 312 66.3 312.4 76.7 312.7 76.2 313.1 77 313.4 76.5 313.8 73.5 314.1 79.2 314.5 84.6 314.8 79.9 315.2 76.3 315.5 77.2 315.9 81.1 316.2 72.5 316.6 54 316.9 73.6 317.3 81.5 317.6 72.5 318 71.3 318.3 74.6 318.7 71.7 319 78.8 319.4 70.6 319.7 79.6 320.1 72.3 320.4 78.5 320.8 74.2 321.1 59.9 321.5 79.1 321.8 65.1 322.2 76.3 322.5 68.2 322.9 70.4 323.2 71 323.6 71.9 323.9 66.6 324.3 69.8 324.6 79.1 325 71.8 325.3 71.7 325.7 74.7 326 85.9 326.4 66.2 326.7 84.7 327.1 73.2 327.4 75.5 327.8 73.7 328.1 69.9 328.5 76.1 328.8 74.2 329.2 76 329.5 73.5 329.9 72.9 330.2 71.4 330.6 76 330.9 71.5 331.3 75.4 331.6 76.3 332 77.1 332.3 81 332.7 83.4 333 81.2 333.4 73.5 333.7 82.3 334.1 74.2 334.4 78 334.8 73.9 335.1 77.9 335.5 70.1 335.8 76.6 336.2 81.8 336.5 78.2 336.9 78.9 337.2 83.2 337.6 76.4 337.9 76.7 338.3 77.5 338.6 81 339 74.2 339.3 62.9 339.7 76.7 340 62.7 340.4 69.6 340.7 71.8 341.1 71.6 341.4 67 341.8 76.4 342.1 67.5 342.5 74.1 342.8 68.3 343.2 72.3 343.5 66.3 343.9 76.2 344.2 53.5 344.6 74.2 344.9 56.1 345.3 63.8 345.6 49 346 66.5 346.3 57.8 346.7 70.3 347 65.1 347.4 66.5 347.7 65.9 348.1 64.9 348.4 69 348.8 60 349.1 68.4 349.5 74.6" stroke="#727272" stroke-width="0.7" fill="none" clip-path="url(#ca)"/>
<path d="M32 46.6 32.3 46.2 32.7 45.7 33.2 45.1 33.7 44.5 34.3 43.8 34.9 43 35.5 42.3 36.1 41.5 36.6 40.8 37.1 40.1 37.6 39.3 38.1 38.4 38.7 37.5 39.2 36.6 39.7 35.9 40.2 35.2 40.7 34.7 41.2 34.4 41.7 34.3 42.2 34.4 42.8 34.7 43.3 35 43.8 35.5 44.3 36 44.8 36.5 45.3 37 45.8 37.4 46.4 37.7 46.9 38.1 47.4 38.4 47.9 38.8 48.5 39.1 49 39.5 49.5 39.9 50 40.4 50.4 40.8 51.1 41.7 51.7 42.7 52.3 43.8 52.9 44.9 53.4 45.8 53.9 46.6 54.6 47.7 55.1 48.6 55.7 49.1 56.2 48.9 56.8 48.1 57.4 46.6 57.9 44.6 58.5 42 59.1 38.3 59.7 33.8 60.3 29.3 60.8 25.8 61.4 23.2 61.9 21.7 62.4 21.2 63 21.5 63.6 22.7 64.3 24.7 64.8 26.7 65.3 29.2 65.9 32.1 66.6 35.1 67.1 37.3 67.7 39.8 68.3 42.3 68.9 44.8 69.5 47.1 70 48.9 70.7 50.6 71.3 52 71.9 53 72.5 53.6 73 54 73.6 54.1 74.1 53.9 74.7 53.3 75.2 52.5 75.8 51.2 76.3 49.8 76.9 48 77.5 45.9 78.1 43.8 78.7 41.7 79.3 39.7 79.8 37.8 80.4 35.8 81 33.9 81.6 32.1 82.2 30.5 82.7 29.3 83.3 28.3 83.9 27.7 84.4 27.4 84.9 27.3 85.5 27.5 86.1 27.8 86.7 28.5 87.3 29.4 87.9 30.4 88.5 31.6 89.1 33 89.7 34.7 90.3 36.5 90.9 38.2 91.5 39.7 92 41 92.6 42.3 93.1 43.5 93.7 44.2 94.2 44.3 94.8 43.8 95.3 42.9 95.9 41.7 96.5 40.3 97.1 38.8 97.7 37.4 98.3 35.9 98.9 34.2 99.5 32.5 100.1 30.8 100.6 29.3 101.2 28.2 101.8 27.1 102.3 26.3 102.8 25.8 103.4 25.6 103.9 25.8 104.5 26.5 105.1 27.7 105.7 29.1 106.3 30.9 106.9 32.8 107.4 34.8 108 37.3 108.5 39.9 109 42.4 109.5 44.3 110 45.5 110.6 45.4 111.1 43.9 111.7 41.8 112.3 39.7 112.8 38.3 113.4 36.7 113.9 35.1 114.5 33.4 115.1 31.8 115.8 30.5 116.3 29.4 116.9 28.3 117.5 27.2 118 26.3 118.6 25.5 119.2 24.9 119.7 24.7 120.3 24.9 120.9 25.6 121.5 26.6 122.1 27.9 122.7 29.3 123.2 30.6 123.8 32.3 124.5 34 125.1 35.7 125.6 37.3 126.1 38.5 126.8 40 127.3 41.1 127.8 41.8 128.4 42 129 41.8 129.5 41.2 130.1 40.5 130.7 39.6 131.3 38.5 131.9 37.4 132.5 36.1 133.1 34.5 133.7 32.7 134.3 31 134.8 29.5 135.4 28.2 136 26.8 136.5 25.7 137 24.7 137.6 24.1 138.1 24 138.7 24.4 139.3 25.2 139.9 26.4 140.5 27.8 141.1 29.3 141.7 30.8 142.3 32.4 142.9 34.3 143.4 36.1 144 38 144.6 39.7 145.2 41.8 145.8 44.1 146.4 46.3 147 48 147.6 48.9 148.1 49.1 148.7 48.6 149.2 47.6 149.8 46.2 150.3 44.3 150.9 42.2 151.5 39.4 152.1 36.3 152.7 33.2 153.2 30.4 153.8 28.2 154.4 26.1 155 24.4 155.6 23 156.2 22.2 156.8 21.7 157.4 21.7 157.9 22.2 158.5 23.1 159 24.3 159.6 25.8 160.2 27.9 160.8 30.4 161.4 33.2 162 36 162.6 38.5 163.1 41 163.7 43.7 164.2 46.1 164.7 48 165.3 48.9 165.9 48.9 166.5 48.2 167.1 47 167.7 45.5 168.3 43.8 168.8 42 169.4 38.9 170 35.1 170.5 31.3 171.1 28.2 171.7 26.1 172.3 24.3 172.9 22.8 173.5 21.7 174.1 21.2 174.6 21.4 175.2 22.1 175.7 23.3 176.3 24.9 176.9 27 177.4 29.2 178 32 178.6 35.1 179.2 38.3 179.8 41.4 180.3 44.3 181 47.7 181.6 51.1 182.2 54.3 182.8 57.2 183.3 59.3 183.9 61.2 184.4 61.7 184.9 61.6 185.5 61.6 186.1 61.3 186.7 60.4 187.2 58.2 187.6 48.3 188 37.4 188.5 32.6 189.2 28.9 189.8 25.8 190.4 23.1 190.9 21 191.5 20.1 192 20.1 192.6 20.8 193.2 22.2 193.8 24.7 194.3 28.5 194.9 33.4 195.5 38.9 196.1 44.3 196.6 50.2 197.2 56.7 197.8 62.5 198.4 66.2 198.9 67.6 199.5 67.2 200 65.4 200.7 62.8 201.2 60.2 201.8 56.9 202.4 53 203 49.1 203.6 45.3 204.1 42 204.8 37.8 205.4 34.1 205.9 30.8 206.4 28.2 207 26 207.6 24.4 208.2 23.4 208.7 23.1 209.3 23.3 209.9 24.1 210.4 25.7 211.1 28.2 211.6 31.1 212.1 34.9 212.7 39 213.2 43.1 213.8 46.6 214.4 49.8 215 53 215.7 55.8 216.3 58 216.8 59.3 217.4 59.5 218 58.4 218.5 56.3 219.1 53.5 219.7 50.5 220.3 46.5 220.9 42.3 221.6 38.3 222.1 35.1 222.7 32.2 223.3 29.9 223.9 28.4 224.4 27.7 225 27.8 225.6 28.6 226.1 30.3 226.7 32.8 227.2 35.7 227.7 39.4 228.2 43.5 228.8 47.6 229.5 51.2 229.9 53.1 230.4 54.9 231 56.8 231.5 58.6 232.1 60.3 232.7 61.8 233.2 63.2 233.7 64.3 234.1 65.1 234.8 66 235.3 65.8 235.8 64.7 236.4 62.8 236.9 60.8 237.5 58.2 238.1 55.3 238.7 52.2 239.3 49.2 239.9 46.6 240.5 43.7 241.1 40.8 241.7 38.1 242.3 36.1 242.9 35.1 243.4 35.1 244 36.1 244.5 37.7 245 39.7 245.6 42 246.2 44.2 246.7 47 247.3 49.9 247.9 52.9 248.5 55.8 249.1 58.2 249.7 60.2 250.2 62.2 250.8 63.9 251.4 65.4 252 66.6 252.6 67.4 253.1 67.8 253.7 67.8 254.3 67.5 254.9 67 255.4 66.1 256 65.1 256.6 63.7 257.2 61.8 257.7 59.7 258.3 57.6 258.9 55.4 259.5 53.5 260 51.7 260.6 49.9 261.2 48.1 261.8 46.4 262.4 45.2 262.9 44.3 263.5 43.8 264.1 43.4 264.8 43.3 265.4 43.7 265.9 44.8 266.4 46.6 267 54.6 267.4 65.2 268 72.2 268.5 72.9 269 72.2 269.6 70.6 270.2 68.6 270.9 66.6 271.5 65.2 272.1 64.3 272.6 63.4 273.2 62.6 273.8 61.9 274.4 61.2 274.9 60.6 275.5 60 276.1 59.4 276.7 58.9 277.3 58.5 277.8 58.3 278.4 58.3 279 58.5 279.6 58.8 280.1 59.4 280.7 60 281.3 60.8 281.9 61.8 282.5 62.9 283 64.3 283.6 65.8 284.2 67.3 284.8 68.7 285.4 69.9 285.9 70.8 286.5 71.6 287.1 72.3 287.7 72.9 288.2 73.2 288.8 73.3 289.4 73.2 290 72.8 290.6 72.2 291.1 71.5 291.7 70.7 292.3 69.9 292.9 68.8 293.5 67.6 294.1 66.2 294.7 64.9 295.3 63.8 295.8 62.9 296.4 62.1 297 61.7 297.5 61.6 298.1 61.8 298.6 62.2 299.2 63 299.7 64 300.4 65.2 300.9 66.2 301.5 67.5 302.1 68.8 302.7 70.1 303.3 71.3 303.9 72.2 304.4 72.8 305 73.2 305.6 73.5 306.2 73.7 306.8 73.9 307.3 74 307.9 74.1 308.5 74.1 309.1 74.1 309.7 74.1 310.2 74 310.8 74 311.4 74.1 312 74.2 312.5 74.3 313.1 74.4 313.7 74.5 314.3 74.5 314.9 74.4 315.4 74.2 316 74 316.6 73.7 317.2 73.5 317.8 73.3 318.3 73.1 318.9 72.9 319.5 72.7 320.1 72.6 320.7 72.5 321.2 72.6 321.8 72.9 322.4 73.4 323 74 323.5 74.6 324.1 75.2 324.7 75.6 325.3 75.9 325.9 76.2 326.4 76.3 327 76.5 327.6 76.6 328.2 76.8 328.8 77 329.3 77.2 329.9 77.4 330.5 77.6 331.1 77.8 331.6 78 332.2 78.2 332.8 78.6 333.4 78.9 334 79.2 334.5 79.3 335.1 79.1 335.7 78.7 336.3 78 336.9 77.2 337.5 76.2 338 75.3 338.6 74.5 339.1 73.7 339.6 72.9 340.1 72 340.6 71.2 341.1 70.5 341.6 69.9 342.2 69.2 342.7 68.8 343.3 68.4 343.8 68 344.4 67.5 345 66.9 345.5 66.2 346.1 65.6 346.7 65.2 347.3 65.1 347.9 65.1 348.6 65.1 349.1 65.2 349.5 65.2" stroke="#000" stroke-width="1.0" fill="none" stroke-linejoin="round" clip-path="url(#ca)"/>
<path d="M32 146.2 32.4 140.9 32.7 142.1 33.1 136.3 33.4 136.3 33.8 128.3 34.1 130.9 34.5 121.4 34.8 128.1 35.2 119.3 35.5 114.4 35.9 119.1 36.2 111.9 36.6 112.7 36.9 116.1 37.3 105.5 37.6 113.2 38 109.6 38.3 111.5 38.7 105.2 39 119.6 39.4 98.2 39.7 116.9 40.1 97.7 40.4 115.3 40.8 107.5 41.1 116.4 41.5 116.6 41.8 129.9 42.2 120 42.5 128.2 42.9 128.6 43.2 128.9 43.6 129.6 43.9 132.6 44.3 124.8 44.6 141.8 45 134 45.3 134.5 45.7 136 46 136.5 46.4 138.1 46.7 141.5 47.1 131.7 47.4 150 47.8 143 48.1 146.1 48.5 150 48.8 150.3 49.2 150.9 49.5 145 49.9 142.1 50.2 157.3 50.6 135.5 50.9 149 51.3 145.8 51.6 167 52 135.3 52.3 144.6 52.7 130.9 53 139.6 53.4 153.7 53.7 137.4 54.1 141.9 54.4 150.6 54.8 139.7 55.1 144.1 55.5 134.8 55.8 129.6 56.2 137.9 56.5 138.4 56.9 130.5 57.2 121.2 57.6 130.5 57.9 129.6 58.3 139.2 58.6 118.2 59 118.2 59.3 119.9 59.7 100 60 110.1 60.4 105.2 60.7 114.5 61.1 96.5 61.4 106.8 61.8 94.7 62.1 86.8 62.5 100.7 62.8 120.9 63.2 104.9 63.5 113.2 63.9 101.3 64.2 125.6 64.6 103 64.9 141.2 65.3 127 65.6 116.6 66 100.6 66.3 140 66.7 119.4 67 132 67.4 126 67.7 120.8 68.1 132.3 68.4 135.4 68.8 147.5 69.1 135.8 69.5 148.1 69.8 139.2 70.2 135.3 70.5 145.3 70.9 142.7 71.2 149.7 71.6 143.4 71.9 146.6 72.3 147.9 72.6 141.5 73 169.9 73.3 141.8 73.7 146 74 144.6 74.4 141.5 74.7 129.2 75.1 144.6 75.4 131.3 75.8 131.8 76.1 134.7 76.5 137.4 76.8 134.7 77.2 129.1 77.5 121.6 77.9 123.1 78.2 128.2 78.6 123.9 78.9 132.7 79.3 97.5 79.6 132.2 80 96.5 80.3 120.7 80.7 116.1 81 99.9 81.4 118.8 81.7 94.7 82.1 110.3 82.4 95.9 82.8 106.5 83.1 100.8 83.5 101.1 83.8 103.4 84.2 103.7 84.5 103.6 84.9 105.8 85.2 104.6 85.6 108.2 85.9 114.4 86.3 114.4 86.6 113.6 87 112.3 87.3 120.6 87.7 118.6 88 121.1 88.4 126.7 88.7 128.5 89.1 128 89.4 129 89.8 130.8 90.1 129.7 90.5 126.9 90.8 136.9 91.2 127.3 91.5 134.2 91.9 130.3 92.2 132 92.6 127.6 92.9 137.4 93.3 127.5 93.6 131.9 94 130.1 94.3 124.2 94.7 131.4 95 128.9 95.4 122.7 95.7 120.7 96.1 131.4 96.4 117.6 96.8 122.4 97.1 116.2 97.5 124.4 97.8 114.5 98.2 118 98.5 114.9 98.9 116.3 99.2 109 99.6 114.6 99.9 117.8 100.3 114.5 100.6 110.1 101 103.9 101.3 124.1 101.7 105.2 102 123.2 102.4 113.1 102.7 101.5 103.1 111.4 103.4 116.9 103.8 110.3 104.1 118.9 104.5 114.2 104.8 119.6 105.2 120.8 105.5 123.9 105.9 121.6 106.2 130.7 106.6 127.1 106.9 133.2 107.3 125 107.6 133.8 108 128.9 108.3 126.5 108.7 128.2 109 122.5 109.4 131.5 109.7 123.3 110.1 120.5 110.4 126.6 110.8 112.6 111.1 124.5 111.5 117.3 111.8 116.1 112.2 117.4 112.5 114 112.9 110.7 113.2 113 113.6 101.2 113.9 122.2 114.3 120.9 114.6 105.7 115 116.6 115.3 125.4 115.7 103.6 116 121 116.4 106.9 116.7 116.1 117.1 111.4 117.4 125.1 117.8 112.5 118.1 117.3 118.5 115.5 118.8 116.5 119.2 117.8 119.5 118.1 119.9 122.7 120.2 116.2 120.6 121.3 120.9 132.4 121.3 135.1 121.6 140.1 122 125.7 122.3 134.7 122.7 136.4 123 126 123.4 131.8 123.7 123.5 124.1 126 124.4 118.5 124.8 130.3 125.1 131.3 125.5 126.9 125.8 133.1 126.2 128.3 126.5 131.5 126.9 124.2 127.2 128.4 127.6 131 127.9 121.2 128.3 130.1 128.6 116.9 129 133.3 129.3 115.7 129.7 129.2 130 112.6 130.4 124.2 130.7 113.2 131.1 114.4 131.4 110.9 131.8 119.3 132.1 99.9 132.5 110.9 132.8 99.4 133.2 105.8 133.5 102.1 133.9 97.4 134.2 94.3 134.6 101.6 134.9 94 135.3 100.9 135.6 98.2 136 104.3 136.3 104.6 136.7 94 137 113 137.4 108.1 137.7 107.2 138.1 110.3 138.4 105.1 138.8 118.7 139.1 115.7 139.5 114.4 139.8 123.8 140.2 115.9 140.5 119.5 140.9 127.1 141.2 116.1 141.6 129.6 141.9 123.6 142.3 134.1 142.6 130.3 143 123.2 143.3 136.3 143.7 137.7 144 137.8 144.4 138.5 144.7 146.9 145.1 134.8 145.4 150.7 145.8 129.7 146.1 138.9 146.5 126.7 146.8 139.1 147.2 128.9 147.5 142.5 147.9 126.9 148.2 139.2 148.6 131.4 148.9 138.5 149.3 120.9 149.6 139 150 113.7 150.3 124.1 150.7 117.6 151 109.2 151.4 111.2 151.7 108.1 152.1 108.8 152.4 109.9 152.8 97.9 153.1 98.8 153.5 110.6 153.8 91.7 154.2 107 154.5 94.1 154.9 96.3 155.2 103.1 155.6 96.4 155.9 104.3 156.3 101.5 156.6 105.5 157 103.8 157.3 107.8 157.7 103.3 158 103.9 158.4 113.3 158.7 112 159.1 119.6 159.4 115.8 159.8 117 160.1 120.6 160.5 127 160.8 129.4 161.2 130.8 161.5 133.8 161.9 130.7 162.2 138.2 162.6 134 162.9 134.9 163.3 142.2 163.6 131.2 164 141.9 164.3 138 164.7 138.7 165 137.7 165.4 134.5 165.7 138.3 166.1 130 166.4 135 166.8 128.9 167.1 134.3 167.5 127.8 167.8 133.8 168.2 123.7 168.5 123.9 168.9 118.8 169.2 125 169.6 121.6 169.9 124.6 170.3 118.4 170.6 115.7 171 118.2 171.3 110.4 171.7 116 172 109.3 172.4 110.6 172.7 99.3 173.1 111.7 173.4 106.6 173.8 103.5 174.1 105.4 174.5 102.8 174.8 106 175.2 106.3 175.5 101.7 175.9 109.4 176.2 109.2 176.6 117.2 176.9 111.2 177.3 116.4 177.6 119.2 178 121.4 178.3 118.7 178.7 135.5 179 123.2 179.4 132.1 179.7 135.6 180.1 128.4 180.4 147.2 180.8 131.1 181.1 142 181.5 132.8 181.8 144.8 182.2 130.6 182.5 137.1 182.9 137.4 183.2 138.5 183.6 132.9 183.9 132.4 184.3 137.9 184.6 135.8 185 133.8 185.3 136.4 185.7 136.1 186 135.8 186.4 125.3 186.7 124.5 187.1 118.6 187.4 119.7 187.8 99.4 188.1 116.9 188.5 97.8 188.8 103.6 189.2 105.6 189.5 96.5 189.9 110.5 190.2 102.2 190.6 105.4 190.9 110.2 191.3 116.9 191.6 109.4 192 118.3 192.3 117.1 192.7 124 193 127.9 193.4 122.7 193.7 136.1 194.1 133.2 194.4 138.8 194.8 144.9 195.1 144.2 195.5 144.1 195.8 144.8 196.2 151.3 196.5 145.1 196.9 150.6 197.2 142.9 197.6 157.5 197.9 145.2 198.3 150.9 198.6 152.8 199 144.6 199.3 151.6 199.7 148.6 200 148 200.4 142.1 200.7 151.4 201.1 153.8 201.4 144.5 201.8 141.6 202.1 138.5 202.5 140.8 202.8 139.6 203.2 139.2 203.5 124.8 203.9 130 204.2 120.1 204.6 124.1 204.9 112.3 205.3 114 205.6 118 206 106.6 206.3 110.4 206.7 110.7 207 105.3 207.4 111.6 207.7 107.6 208.1 108 208.4 101.9 208.8 104.2 209.1 105.2 209.5 107 209.8 108.3 210.2 108.9 210.5 107.4 210.9 111 211.2 115.3 211.6 125.9 211.9 114.8 212.3 129 212.6 119.4 213 130.4 213.3 120.3 213.7 148.6 214 129.5 214.4 143.1 214.7 154.3 215.1 143.8 215.4 150 215.8 152.4 216.1 147.6 216.5 143.7 216.8 154.1 217.2 148.5 217.5 149.1 217.9 148.8 218.2 142.6 218.6 142.5 218.9 136.3 219.3 137.5 219.6 131.6 220 132.6 220.3 125.2 220.7 130.9 221 121 221.4 125.7 221.7 118.5 222.1 122.8 222.4 111.7 222.8 120.9 223.1 111.9 223.5 112.9 223.8 108.1 224.2 115.2 224.5 103.5 224.9 115 225.2 106.1 225.6 107.5 225.9 104.3 226.3 112.6 226.6 104.9 227 115.9 227.3 112.8 227.7 128.7 228 118.5 228.4 137.5 228.7 128.6 229.1 127.6 229.4 128.6 229.8 139.3 230.1 145.1 230.5 141.5 230.8 141.2 231.2 167.1 231.5 143.4 231.9 159.6 232.2 153.8 232.6 159.1 232.9 160.1 233.3 170 233.6 164.2 234 170.5 234.3 168 234.7 162.4 235 166.5 235.4 162.3 235.7 162 236.1 150.8 236.4 156 236.8 147.7 237.1 151.6 237.5 137.8 237.8 144.6 238.2 142.6 238.5 129.5 238.9 133 239.2 121.3 239.6 125.4 239.9 122.1 240.3 116.2 240.6 122 241 118 241.3 127.2 241.7 119.1 242 130.8 242.4 119.2 242.7 134.2 243.1 123.2 243.4 137.5 243.8 138 244.1 129.4 244.5 153.1 244.8 139.5 245.2 149.5 245.5 149 245.9 146.5 246.2 156.3 246.6 149.1 246.9 156 247.3 149.2 247.6 160.6 248 145 248.3 167.7 248.7 147.5 249 156.7 249.4 143.6 249.7 155.7 250.1 142 250.4 148.9 250.8 156.7 251.1 140.8 251.5 147.5 251.8 144.5 252.2 155.1 252.5 146.6 252.9 150.6 253.2 144.3 253.6 158 253.9 151.1 254.3 143.5 254.6 144 255 153.9 255.3 147.2 255.7 149.6 256 145.8 256.4 146.5 256.7 140.2 257.1 153.7 257.4 139.8 257.8 145 258.1 142.3 258.5 141.3 258.8 135.1 259.2 140.4 259.5 136.5 259.9 137.3 260.2 130.8 260.6 138.2 260.9 129.6 261.3 135.5 261.6 124.2 262 143.5 262.3 128 262.7 124 263 134.3 263.4 129 263.7 126.4 264.1 139.9 264.4 126.7 264.8 137.7 265.1 140.5 265.5 128.8 265.8 149.2 266.2 141 266.5 146.8 266.9 153 267.2 156.3 267.6 147.4 267.9 152.2 268.3 157.3 268.6 151.2 269 143 269.3 166.8 269.7 150.2 270 151.9 270.4 149.4 270.7 151.5 271.1 138.4 271.4 152.2 271.8 149.2 272.1 150.9 272.5 149 272.8 151.6 273.2 153.4 273.5 153.9 273.9 147.1 274.2 151.6 274.6 134.7 274.9 151.5 275.3 137.5 275.6 141.9 276 130 276.3 150.1 276.7 136.8 277 147.6 277.4 134.4 277.7 143.4 278.1 141.5 278.4 143.4 278.8 143 279.1 142.8 279.5 138 279.8 149.9 280.2 125.3 280.5 147.4 280.9 132.7 281.2 151.9 281.6 131.1 281.9 130.7 282.3 143.9 282.6 134.8 283 153.1 283.3 142.7 283.7 152.7 284 146.8 284.4 151.5 284.7 153.3 285.1 154.7 285.4 158.5 285.8 153.6 286.1 157 286.5 159.4 286.8 161.3 287.2 163.5 287.5 149 287.9 167.9 288.2 152.8 288.6 158.4 288.9 154.3 289.3 155.4 289.6 160.5 290 153.2 290.3 156.4 290.7 162.8 291 167.3 291.4 156 291.7 168.8 292.1 156 292.4 161.5 292.8 155.9 293.1 156.6 293.5 137 293.8 158.6 294.2 158.3 294.5 154.6 294.9 160.1 295.2 161 295.6 155.4 295.9 162.7 296.3 157.5 296.6 162.6 297 155.6 297.3 166.3 297.7 156.3 298 158.8 298.4 154.8 298.7 156.2 299.1 158.1 299.4 150.2 299.8 161.5 300.1 147.2 300.5 158 300.8 152 301.2 155.5 301.5 155.6 301.9 153.2 302.2 158.9 302.6 154.8 302.9 161.4 303.3 155.9 303.6 163.9 304 159.1 304.3 155 304.7 157.7 305 159.8 305.4 157.6 305.7 162.1 306.1 153.6 306.4 156.4 306.8 151.5 307.1 156.8 307.5 157.2 307.8 162.8 308.2 147.6 308.5 156.5 308.9 157.6 309.2 151.6 309.6 157.5 309.9 152.2 310.3 150.1 310.6 153.4 311 154.4 311.3 147.6 311.7 152.3 312 151.4 312.4 154.3 312.7 146.4 313.1 159.7 313.4 150.6 313.8 163 314.1 155.8 314.5 155.3 314.8 153.3 315.2 153.2 315.5 153.6 315.9 153.9 316.2 152.6 316.6 154.8 316.9 154.9 317.3 142.1 317.6 161.3 318 155 318.3 160.5 318.7 148.9 319 154 319.4 156.9 319.7 153.3 320.1 158.4 320.4 154.2 320.8 155.6 321.1 156 321.5 161.7 321.8 155.7 322.2 163 322.5 147.4 322.9 154.5 323.2 153.7 323.6 144.2 323.9 155.9 324.3 148.4 324.6 159.6 325 161.3 325.3 152.2 325.7 172.7 326 172.8 326.4 155.3 326.7 159.7 327.1 169 327.4 155 327.8 137.9 328.1 179.9 328.5 156.7 328.8 170.5 329.2 158.8 329.5 158.5 329.9 160.7 330.2 159.4 330.6 162.2 330.9 156.2 331.3 154.5 331.6 164.3 332 156.6 332.3 161.3 332.7 165.2 333 163.3 333.4 159.8 333.7 160.9 334.1 158 334.4 168.3 334.8 152.5 335.1 164.7 335.5 158.1 335.8 156.4 336.2 160.6 336.5 165.7 336.9 154.7 337.2 161.1 337.6 142 337.9 166 338.3 164.1 338.6 152.4 339 162.2 339.3 156.3 339.7 155.7 340 160.2 340.4 155.8 340.7 158.3 341.1 162.8 341.4 161.4 341.8 153.8 342.1 165.5 342.5 157.7 342.8 165.1 343.2 154.6 343.5 169.2 343.9 162.2 344.2 162.2 344.6 159.9 344.9 163 345.3 158.6 345.6 158.6 346 166.4 346.3 157.4 346.7 168.2 347 169.1 347.4 155.5 347.7 161.7 348.1 160.4 348.4 157.6 348.8 161.2 349.1 154.1 349.5 158.9" stroke="#727272" stroke-width="0.7" fill="none" clip-path="url(#cb)"/>
<path d="M32 141.5 32.4 138.9 33 135.2 33.7 131.2 34.3 127.6 34.9 124.6 35.5 121.8 36 119.3 36.6 117.2 37.2 115.5 37.8 114.1 38.3 113.1 38.9 112.6 39.5 112.7 40.1 113.3 40.6 114.5 41.2 116.1 41.8 118.4 42.4 121.5 43 124.7 43.5 127.6 44.1 130.2 44.7 132.8 45.3 135.1 45.8 136.8 46.4 138 46.9 138.6 47.5 138.9 48.1 139.2 48.6 139.3 49.2 139.4 49.8 139.4 50.4 139.3 51 139.2 51.6 139.2 52.2 139.1 52.8 139 53.4 138.9 54 138.8 54.5 138.5 55.1 138 55.7 137.2 56.3 136.2 56.8 134.7 57.4 132.2 57.9 128.2 58.5 123.1 59.1 117.9 59.7 113.8 60.3 110.2 60.9 107.9 61.5 106.8 62 106.9 62.6 107.7 63.2 109.2 63.8 111.5 64.3 114 64.9 117.4 65.5 121 66.1 124.6 66.6 127.6 67.2 130.8 67.8 133.6 68.3 136 68.9 138 69.4 139.5 70 140.5 70.5 141.2 71.2 141.5 71.7 141.5 72.3 141.3 72.9 141 73.5 140.5 74.1 139.9 74.7 139.2 75.2 138.3 75.8 137.4 76.5 136.4 77 135.2 77.6 133.8 78.1 132.2 78.8 129.2 79.3 125.7 79.8 121.9 80.4 118.4 80.9 115.5 81.5 112.3 82.1 109.4 82.7 107 83.2 105.7 83.8 105.6 84.3 106.9 84.9 109 85.5 111.5 86.1 113.9 86.7 117 87.3 120.2 87.9 123.1 88.5 125.3 89.1 126.8 89.7 127.5 90.2 127.7 90.8 127.6 91.3 127.1 91.9 126.2 92.4 125.1 93.1 124.2 93.6 123.7 94.2 123.4 94.8 123.1 95.4 122.7 96 122.4 96.6 121.8 97.2 120.9 97.7 119.7 98.3 118.4 98.9 117.2 99.4 116.2 99.9 115 100.5 113.9 101 113 101.6 112.6 102.2 112.7 102.8 113 103.4 113.7 104 114.7 104.6 116.1 105.2 117.7 105.8 120 106.4 122.5 107 124.8 107.6 126.7 108.1 127.6 108.8 126.6 109.3 123.5 110 120.7 110.5 119.7 111 118.8 111.6 118 112.2 117.2 112.9 116.6 113.5 116.1 114 115.7 114.6 115.5 115.2 115.4 115.8 115.4 116.3 115.6 116.9 116.1 117.5 116.8 118 117.9 118.6 119.2 119.1 120.5 119.7 121.8 120.4 123 120.8 123.8 121.3 124.6 121.9 125.4 122.4 126.3 123 127.1 123.5 127.7 124 128.3 124.5 128.6 125 128.8 125.6 128.5 126.2 127.9 126.8 127 127.3 125.8 127.9 124.4 128.4 123 129 121.3 129.6 119.3 130.2 117.2 130.8 115 131.4 113.1 131.9 111.5 132.5 109.7 133.1 108.3 133.6 107.4 134.2 106.8 134.8 106.8 135.4 106.9 136 107.4 136.6 108.1 137.2 109.2 137.8 110.5 138.3 112.2 138.8 114.1 139.4 116.2 140 118.4 140.5 120.4 141.1 122.7 141.7 125.1 142.3 127.4 142.8 129.5 143.4 131.1 144 132.3 144.6 133.2 145.2 133.9 145.8 134.3 146.4 134.5 146.9 134.5 147.5 134.2 148.1 133.3 148.6 131.9 149.2 129.9 149.8 127.1 150.3 123.5 150.9 119.7 151.5 116.1 152 113.2 152.6 110 153.1 107.1 153.7 104.7 154.3 103.4 154.9 103.3 155.5 104.1 156.1 105.5 156.7 107.3 157.3 109.2 157.9 111.6 158.5 114.6 159 117.7 159.6 120.7 160.1 123.8 160.7 127 161.3 130 161.9 132.2 162.4 133.6 163 134.2 163.5 134.5 164.2 134.5 164.7 134.5 165.3 134.5 165.9 134.2 166.5 133.9 167.1 133.2 167.6 132.2 168.3 130.1 168.8 127.3 169.4 124.1 169.9 120.7 170.5 117.4 171 113.5 171.6 109.6 172.1 106.4 172.7 104.5 173.3 104.3 173.9 105.3 174.5 107.1 175.1 109.3 175.7 111.5 176.3 114.5 176.8 118.2 177.4 121.9 178 125.3 178.5 127.4 179.1 129.5 179.7 131.4 180.3 133.2 180.9 134.7 181.5 135.7 182.1 136.4 182.6 136.9 183.2 137.1 183.8 136.8 184.4 136 184.9 134.5 185.5 132 186 128.4 186.5 124.2 187 120.1 187.5 116.4 188 113.8 188.6 111.6 189.2 110.7 189.7 110.8 190.3 111.5 190.9 112.7 191.5 114.8 192 117.5 192.6 120.7 193.2 124.8 193.7 129.9 194.3 134.9 194.9 139.2 195.4 142 196 144.7 196.5 146.9 197.1 148.6 197.7 149.5 198.3 149.7 198.8 149.1 199.4 147.9 200 146.1 200.7 143.8 201.2 141.1 201.8 137.6 202.4 133.7 203 129.7 203.6 126 204.1 123 204.7 120.5 205.3 118.3 205.9 116.4 206.5 114.8 207.1 113.5 207.6 112.6 208.2 111.9 208.7 111.9 209.3 112.8 209.9 114.9 210.4 117.3 211 120.5 211.6 124.2 212.2 128 212.8 131.5 213.4 134.5 213.9 137.1 214.6 139.7 215.2 142 215.8 143.9 216.3 145.3 216.8 146.1 217.5 145.9 218 144.3 218.6 142 219.1 139.2 219.7 135.6 220.2 131.2 220.8 126.8 221.4 123 222 120.5 222.5 118.1 223.1 116.1 223.7 114.6 224.2 113.8 224.7 113.5 225.2 113.8 225.7 114.7 226.2 116.2 226.7 118.4 227.3 121.5 227.8 125.6 228.3 130.2 228.9 134.8 229.5 139.2 230 142.3 230.6 145.7 231.1 149.2 231.7 152.5 232.3 155.4 232.9 157.6 233.4 158.8 234.1 158.7 234.7 157.1 235.3 154.4 235.8 151.3 236.4 148.4 237 145.3 237.6 141.8 238.1 138.1 238.7 134.8 239.2 132.2 239.8 129.9 240.3 128.2 240.9 127.4 241.5 127.6 242.1 128.8 242.7 130.8 243.3 133.4 243.9 136.3 244.5 139.2 245.1 143.3 245.7 148 246.2 152.4 246.8 155.3 247.3 156.3 247.9 156.1 248.4 155.2 249.1 154.2 249.6 153.4 250.2 152.5 250.8 151.5 251.4 150.4 252 149.3 252.6 148.4 253.1 147.5 253.7 146.6 254.4 145.8 254.9 145 255.5 144.3 256 143.8 256.6 143.5 257.2 143.6 257.7 143.5 258.3 142.6 258.8 141.2 259.4 139.2 260 136.9 260.6 134.8 261.2 133.1 261.8 132.2 262.4 132.3 263 133 263.5 134.2 264.1 135.8 264.7 137.5 265.2 139.2 265.8 141.5 266.4 144.4 267 147.4 267.5 150.1 268 152 268.6 153.3 269.1 153.7 269.7 153.6 270.3 153.2 270.8 152.7 271.4 152.1 272 151.2 272.6 150.3 273.2 149.4 273.8 148.5 274.4 147.7 274.9 146.9 275.5 146.1 276.1 145.3 276.7 144.6 277.3 143.9 277.8 143.3 278.4 142.6 279 142 279.6 141.6 280.2 141.4 280.7 141.6 281.3 142.2 281.9 143.2 282.5 144.4 283 145.8 283.6 147.2 284.2 148.5 284.8 149.9 285.4 151.4 285.9 152.9 286.5 154.3 287.1 155.6 287.7 156.6 288.2 157.4 288.8 157.9 289.3 158.2 289.9 158.5 290.5 158.7 291.1 159 291.6 159.1 292.1 159.3 292.6 159.5 293.1 159.7 293.7 159.8 294.2 159.9 294.7 160 295.3 160.1 295.8 160.1 296.3 160.1 296.8 160 297.3 159.9 297.8 159.8 298.3 159.7 298.9 159.5 299.4 159.3 299.9 159.1 300.4 159 300.9 158.8 301.4 158.5 301.9 158.3 302.5 158 303 157.7 303.5 157.5 304 157.2 304.5 156.9 305 156.6 305.5 156.4 306.1 156.1 306.6 155.8 307.1 155.5 307.6 155.2 308.1 155 308.6 154.7 309.1 154.5 309.7 154.3 310.2 154.2 310.7 154 311.2 153.9 311.7 153.8 312.2 153.7 312.7 153.7 313.3 153.6 313.8 153.6 314.3 153.6 314.8 153.7 315.3 153.8 315.8 153.9 316.3 154 316.9 154.2 317.4 154.4 317.9 154.6 318.4 154.8 318.9 155 319.4 155.3 319.9 155.5 320.5 155.8 321 156.1 321.5 156.4 322 156.8 322.5 157.1 323 157.5 323.5 157.8 324.1 158.2 324.6 158.6 325.1 159 325.6 159.4 326.1 159.8 326.6 160.3 327.1 160.6 327.7 161 328.2 161.3 328.7 161.5 329.2 161.8 329.7 162 330.2 162.1 330.7 162.3 331.3 162.4 331.8 162.4 332.3 162.5 332.8 162.4 333.3 162.3 333.8 162.1 334.3 161.8 334.9 161.4 335.4 161.1 335.9 160.8 336.4 160.5 336.9 160.2 337.4 160.1 337.9 160.1 338.5 160.1 339 160.2 339.5 160.4 340 160.6 340.5 160.8 341 160.9 341.5 161.1 342.1 161.3 342.6 161.4 343.1 161.6 343.7 161.8 344.2 162 344.8 162.2 345.3 162.3 345.8 162.4 346.3 162.5 346.7 162.4 347.4 162.2 348.1 161.6 348.7 161 349.1 160.5 349.5 160.1" stroke="#000" stroke-width="1.0" fill="none" stroke-linejoin="round" clip-path="url(#cb)"/>
<path d="M32 215.2 32.4 217.2 32.7 211.4 33.1 211.2 33.4 214.3 33.8 203.8 34.1 213.5 34.5 211.6 34.8 212.2 35.2 209.7 35.5 200.9 35.9 216.8 36.2 199.1 36.6 199.5 36.9 200.9 37.3 205.3 37.6 192.4 38 207 38.3 197.5 38.7 204.3 39 202.3 39.4 198.1 39.7 201.6 40.1 207.7 40.4 195.8 40.8 208.9 41.1 191.2 41.5 209.9 41.8 204 42.2 210.8 42.5 207.1 42.9 209.6 43.2 213.8 43.6 210.1 43.9 215 44.3 218.8 44.6 213.9 45 223.7 45.3 221.4 45.7 230 46 228.1 46.4 231.4 46.7 230.9 47.1 235.1 47.4 230.9 47.8 232.5 48.1 231.9 48.5 230.6 48.8 225.6 49.2 225.9 49.5 225.2 49.9 226.5 50.2 225.7 50.6 237 50.9 209.4 51.3 236.3 51.6 211.5 52 224.3 52.3 217.8 52.7 229.9 53 227.9 53.4 233.9 53.7 227.9 54.1 226.6 54.4 220.7 54.8 225.4 55.1 226.4 55.5 228.2 55.8 229.3 56.2 211.6 56.5 217.3 56.9 218.8 57.2 199.7 57.6 220.9 57.9 186.2 58.3 186.1 58.6 202.1 59 192.1 59.3 208.2 59.7 186.3 60 200.6 60.4 193.6 60.7 189.4 61.1 192.1 61.4 190.3 61.8 193.5 62.1 179 62.5 196 62.8 188.2 63.2 185.5 63.5 196.7 63.9 197.8 64.2 204.7 64.6 192.3 64.9 207.7 65.3 194 65.6 216.1 66 235 66.3 220.9 66.7 222 67 208.7 67.4 244.6 67.7 215.2 68.1 245.9 68.4 215.8 68.8 231 69.1 228.7 69.5 217.9 69.8 211.8 70.2 235.3 70.5 226 70.9 236.6 71.2 232.7 71.6 231.3 71.9 232.5 72.3 228.9 72.6 222.6 73 228.1 73.3 208.7 73.7 220.4 74 211.1 74.4 211.7 74.7 228 75.1 206.7 75.4 229 75.8 210.2 76.1 226.7 76.5 207.8 76.8 229.9 77.2 204.8 77.5 217.9 77.9 197.6 78.2 213.6 78.6 203.8 78.9 200.2 79.3 180.8 79.6 231.6 80 194.6 80.3 217.8 80.7 206.1 81 189.7 81.4 205.9 81.7 196.1 82.1 209.4 82.4 203.7 82.8 211.8 83.1 205.2 83.5 212.4 83.8 203 84.2 210.3 84.5 201.6 84.9 211.1 85.2 198.9 85.6 204 85.9 205.2 86.3 200.9 86.6 200.9 87 199.4 87.3 203 87.7 201.7 88 199.6 88.4 202.4 88.7 201.8 89.1 204.7 89.4 206.6 89.8 202.4 90.1 199.9 90.5 201 90.8 197.6 91.2 196.9 91.5 196.7 91.9 193.3 92.2 191.6 92.6 195.6 92.9 205.6 93.3 189.8 93.6 191.9 94 206.2 94.3 197.8 94.7 212.2 95 193.9 95.4 218.6 95.7 203.3 96.1 201.8 96.4 200.8 96.8 203.9 97.1 203.4 97.5 198.9 97.8 203.5 98.2 194.6 98.5 199.3 98.9 194.4 99.2 198.5 99.6 198.9 99.9 197.4 100.3 197.5 100.6 188.5 101 196.2 101.3 197.2 101.7 189.1 102 187.1 102.4 193.3 102.7 179.8 103.1 204.6 103.4 191.9 103.8 203.9 104.1 194.6 104.5 199.6 104.8 199.1 105.2 201.9 105.5 206.4 105.9 201.2 106.2 197.1 106.6 200.8 106.9 195.5 107.3 203.9 107.6 197.3 108 200.8 108.3 195.9 108.7 201.8 109 200.9 109.4 203.1 109.7 202.3 110.1 205.4 110.4 201.9 110.8 209.4 111.1 204.7 111.5 209.1 111.8 208.2 112.2 204.1 112.5 213.6 112.9 202 113.2 201.6 113.6 204.2 113.9 204.5 114.3 196.1 114.6 202 115 200.9 115.3 208.8 115.7 193 116 199.7 116.4 200.1 116.7 196.4 117.1 197.6 117.4 199 117.8 189 118.1 195.4 118.5 195.9 118.8 193.2 119.2 197.9 119.5 200 119.9 195.2 120.2 203 120.6 187.6 120.9 211.3 121.3 192.3 121.6 208.1 122 202.1 122.3 211 122.7 205.4 123 210.1 123.4 211.8 123.7 208.3 124.1 216.1 124.4 215.6 124.8 221.1 125.1 220.5 125.5 219 125.8 219.6 126.2 227.3 126.5 229.4 126.9 222.8 127.2 237.9 127.6 226.6 127.9 232.1 128.3 227.4 128.6 225.8 129 231 129.3 221.9 129.7 223 130 225.3 130.4 211.4 130.7 212.8 131.1 216.8 131.4 208.9 131.8 206.5 132.1 208.3 132.5 207 132.8 201.1 133.2 196.4 133.5 198.1 133.9 191.8 134.2 191.4 134.6 188.9 134.9 201.6 135.3 180.6 135.6 193.5 136 181.6 136.3 181.8 136.7 189.7 137 177.9 137.4 189.4 137.7 179.5 138.1 186.5 138.4 177.6 138.8 188.9 139.1 186.4 139.5 191.4 139.8 184.5 140.2 197.1 140.5 188.2 140.9 201.8 141.2 198.5 141.6 201.2 141.9 203.9 142.3 201.7 142.6 212.4 143 215.9 143.3 214.4 143.7 217.6 144 214.3 144.4 231.7 144.7 225.9 145.1 229.9 145.4 226 145.8 230.4 146.1 223 146.5 224.4 146.8 235.9 147.2 230.8 147.5 231.8 147.9 233.6 148.2 238.1 148.6 225 148.9 232 149.3 232.6 149.6 231.2 150 219.2 150.3 218.5 150.7 210.6 151 219.1 151.4 201.5 151.7 198.1 152.1 191.9 152.4 197.7 152.8 180.5 153.1 184.5 153.5 195.4 153.8 174.4 154.2 188.2 154.5 168.3 154.9 179.8 155.2 165.6 155.6 167.2 155.9 185.1 156.3 176.2 156.6 185.4 157 182.4 157.3 179.1 157.7 193.4 158 178.7 158.4 189.8 158.7 190.8 159.1 192.2 159.4 199.8 159.8 201.8 160.1 204.8 160.5 207.4 160.8 212.4 161.2 220.5 161.5 212.4 161.9 225.4 162.2 209.3 162.6 237.2 162.9 215.5 163.3 231.7 163.6 225.9 164 230.4 164.3 231 164.7 238.2 165 227.9 165.4 236.6 165.7 231.6 166.1 235.7 166.4 227.7 166.8 235.4 167.1 221.6 167.5 229 167.8 217.1 168.2 222.6 168.5 216.4 168.9 210.5 169.2 203.3 169.6 195.5 169.9 204.9 170.3 186.4 170.6 199.7 171 181.9 171.3 185.3 171.7 176.4 172 181.7 172.4 180.4 172.7 176.7 173.1 171.9 173.4 173.2 173.8 172.2 174.1 175.1 174.5 175.9 174.8 175.1 175.2 180.8 175.5 182.4 175.9 185 176.2 189.1 176.6 191.5 176.9 193 177.3 205.1 177.6 194.8 178 199.5 178.3 211.6 178.7 208.7 179 213.1 179.4 220.2 179.7 228.6 180.1 218.5 180.4 240.6 180.8 229.4 181.1 233.7 181.5 227.9 181.8 225.4 182.2 239 182.5 237.3 182.9 229 183.2 221.3 183.6 225.1 183.9 222.4 184.3 233.1 184.6 218.2 185 212.5 185.3 215.4 185.7 207.1 186 206.8 186.4 205.5 186.7 200.3 187.1 193.9 187.4 203.5 187.8 196.7 188.1 185.4 188.5 194.3 188.8 186.4 189.2 189.5 189.5 180.7 189.9 192.9 190.2 192.8 190.6 182.3 190.9 193.5 191.3 191.5 191.6 203.5 192 194.3 192.3 207.7 192.7 194.6 193 217.2 193.4 209.3 193.7 222.8 194.1 218.5 194.4 223 194.8 230.4 195.1 229 195.5 237.7 195.8 231.6 196.2 241 196.5 248.3 196.9 245.9 197.2 256 197.6 245.7 197.9 249.5 198.3 241.5 198.6 245.9 199 235.2 199.3 241.4 199.7 230 200 236.5 200.4 231.9 200.7 236.7 201.1 226.8 201.4 227 201.8 224.5 202.1 214.3 202.5 215.2 202.8 214.7 203.2 194.5 203.5 212.6 203.9 197 204.2 196.8 204.6 194 204.9 195 205.3 189.3 205.6 191.3 206 190 206.3 186.5 206.7 188.5 207 190.9 207.4 184.1 207.7 188.3 208.1 188.8 208.4 193.1 208.8 191.7 209.1 188.2 209.5 191.6 209.8 196.3 210.2 201.1 210.5 202.9 210.9 200.5 211.2 207.8 211.6 212.1 211.9 214.1 212.3 223.5 212.6 223.3 213 236.1 213.3 232 213.7 246.1 214 244.5 214.4 246.8 214.7 248 215.1 246.1 215.4 250.9 215.8 248 216.1 247.1 216.5 244.5 216.8 246 217.2 240 217.5 246.6 217.9 237.8 218.2 236.7 218.6 231.2 218.9 221 219.3 230.1 219.6 219.7 220 213.6 220.3 218.9 220.7 209 221 213.2 221.4 204.2 221.7 206.2 222.1 203 222.4 207 222.8 197.2 223.1 211.7 223.5 196.6 223.8 207.8 224.2 193.9 224.5 202.9 224.9 196.1 225.2 201.3 225.6 197.3 225.9 202.8 226.3 207.3 226.6 204.6 227 214.7 227.3 210 227.7 213.9 228 223.2 228.4 219.3 228.7 226.6 229.1 226.1 229.4 226.8 229.8 240.7 230.1 231.9 230.5 244.4 230.8 236.9 231.2 253.3 231.5 228.1 231.9 255 232.2 238.6 232.6 252 232.9 231.4 233.3 247.5 233.6 237.6 234 240.4 234.3 238.3 234.7 237.6 235 233.7 235.4 234.3 235.7 234 236.1 231.2 236.4 229 236.8 227.6 237.1 218.6 237.5 224.6 237.8 213.7 238.2 217.7 238.5 213.8 238.9 217.3 239.2 211.8 239.6 215.2 239.9 208 240.3 212.8 240.6 210.1 241 216.9 241.3 215.3 241.7 209.1 242 220.9 242.4 221.1 242.7 219.2 243.1 214.6 243.4 234.7 243.8 215.8 244.1 231.2 244.5 228 244.8 235.8 245.2 234.3 245.5 242.8 245.9 233.3 246.2 245.1 246.6 231.2 246.9 246.1 247.3 234.8 247.6 228.4 248 242.3 248.3 238.2 248.7 239.6 249 234 249.4 244.7 249.7 234.3 250.1 244.8 250.4 233.7 250.8 236.3 251.1 229.7 251.5 234.4 251.8 229.6 252.2 234.2 252.5 231.3 252.9 233.5 253.2 223.9 253.6 232.3 253.9 229 254.3 232 254.6 228.4 255 229.4 255.3 232 255.7 231.5 256 235.1 256.4 228.8 256.7 232 257.1 220.8 257.4 237.8 257.8 228.2 258.1 235 258.5 225.2 258.8 235.5 259.2 234.4 259.5 227.7 259.9 228.8 260.2 228.2 260.6 229.4 260.9 215.7 261.3 242.4 261.6 223.1 262 228.7 262.3 228.2 262.7 224.5 263 226 263.4 227 263.7 224.7 264.1 219.5 264.4 228.7 264.8 225.6 265.1 216.2 265.5 229.2 265.8 226.8 266.2 221.8 266.5 227.6 266.9 229.4 267.2 235.5 267.6 233.8 267.9 231.3 268.3 235.3 268.6 230.3 269 239.1 269.3 237.1 269.7 231 270 242.5 270.4 231.7 270.7 243.9 271.1 238.1 271.4 237.5 271.8 235.9 272.1 227.7 272.5 213.1 272.8 252.3 273.2 221.7 273.5 239.8 273.9 236.3 274.2 225.5 274.6 237.3 274.9 234.7 275.3 234.9 275.6 237 276 225.7 276.3 232.9 276.7 240.3 277 221.6 277.4 228.9 277.7 230.2 278.1 229.1 278.4 218 278.8 230.4 279.1 223.7 279.5 223.2 279.8 225.7 280.2 227.8 280.5 221.9 280.9 227.7 281.2 215.4 281.6 242.7 281.9 210.6 282.3 228.1 282.6 224.3 283 226.5 283.3 226 283.7 227.9 284 230.8 284.4 236.7 284.7 235.2 285.1 237.2 285.4 247.2 285.8 238.5 286.1 251.7 286.5 243 286.8 244.8 287.2 235.8 287.5 243.2 287.9 242.7 288.2 239.1 288.6 243.5 288.9 237.4 289.3 238.4 289.6 230.5 290 243.9 290.3 237.6 290.7 243.6 291 239 291.4 235.7 291.7 240.4 292.1 243.8 292.4 242 292.8 247.8 293.1 228.6 293.5 243.1 293.8 231.9 294.2 234.4 294.5 240.4 294.9 236.5 295.2 235.4 295.6 242.8 295.9 239.2 296.3 241.5 296.6 242 297 229.3 297.3 235.4 297.7 229.8 298 244.2 298.4 228.6 298.7 235.2 299.1 233.2 299.4 242.3 299.8 239.3 300.1 244.3 300.5 241.2 300.8 242.8 301.2 232.8 301.5 247.3 301.9 233.3 302.2 239.9 302.6 241.4 302.9 229 303.3 232.2 303.6 225.4 304 243.5 304.3 231.8 304.7 240.6 305 235.7 305.4 237.1 305.7 237.8 306.1 242.1 306.4 237.1 306.8 246.7 307.1 238.9 307.5 240.6 307.8 241.3 308.2 244.5 308.5 245.7 308.9 234.8 309.2 247.2 309.6 237.9 309.9 245.7 310.3 234.9 310.6 243.3 311 235.3 311.3 237.5 311.7 234.9 312 237.4 312.4 231.9 312.7 231 313.1 231 313.4 228.6 313.8 218.4 314.1 225.4 314.5 231.3 314.8 223.2 315.2 232.7 315.5 224.8 315.9 231.3 316.2 228.8 316.6 237.6 316.9 229.7 317.3 235.1 317.6 236.2 318 233.1 318.3 243.3 318.7 231.8 319 245 319.4 232.7 319.7 246.5 320.1 236.3 320.4 244.3 320.8 236 321.1 253.6 321.5 243.5 321.8 244.5 322.2 244.7 322.5 241.3 322.9 241.9 323.2 241.6 323.6 234.7 323.9 251.8 324.3 222.6 324.6 240 325 225.9 325.3 232.5 325.7 245.4 326 228 326.4 228.1 326.7 239.6 327.1 235.4 327.4 241.2 327.8 239 328.1 242 328.5 238.2 328.8 240 329.2 243.6 329.5 249.5 329.9 245.5 330.2 235.7 330.6 241.9 330.9 240.4 331.3 244.6 331.6 233.4 332 244.1 332.3 242.3 332.7 231.6 333 247.3 333.4 235.7 333.7 243.2 334.1 232.8 334.4 243.1 334.8 238.6 335.1 242.9 335.5 242.1 335.8 245.8 336.2 249.2 336.5 232.4 336.9 247.8 337.2 238.1 337.6 244 337.9 237.2 338.3 247.5 338.6 232.1 339 243.1 339.3 237.2 339.7 242.7 340 241.1 340.4 239.1 340.7 251.9 341.1 238.9 341.4 245.5 341.8 241.1 342.1 249.2 342.5 240.5 342.8 250.7 343.2 244.5 343.5 249.3 343.9 247.9 344.2 246.2 344.6 246.5 344.9 247.8 345.3 241.9 345.6 250.4 346 246.2 346.3 247.7 346.7 245.1 347 245.9 347.4 249.2 347.7 245.5 348.1 245.5 348.4 249 348.8 248.8 349.1 246.1 349.5 244.7" stroke="#727272" stroke-width="0.7" fill="none" clip-path="url(#cc)"/>
<path d="M32 219 32.4 217.5 33 215.4 33.6 213.1 34.3 210.9 34.8 209.4 35.4 207.8 35.9 206.4 36.5 205.1 37.1 204 37.7 203.1 38.3 202.3 38.9 201.7 39.5 201.5 40.1 201.7 40.7 202.7 41.2 204.4 41.7 206.4 42.4 208.6 42.9 210.2 43.5 212.1 44.1 214.1 44.7 216 45.3 217.7 45.8 219 46.5 220.2 47 220.9 47.5 221.2 48.1 221.3 48.6 221.4 49.2 221.4 49.8 221.3 50.4 221.1 51 220.7 51.6 220.2 52.2 219.4 52.7 218.5 53.3 217.5 53.9 216.3 54.5 214.9 55.1 213.2 55.6 211.2 56.3 208.8 56.9 206.2 57.4 203.6 58 201.2 58.5 199.4 59.2 197.4 59.7 195.9 60.3 195.1 60.8 194.8 61.4 195.1 61.9 195.9 62.5 197.4 63.1 199.4 63.6 201.2 64.2 203.4 64.8 205.9 65.4 208.5 66 211 66.6 213.2 67.2 215.3 67.7 217.5 68.3 219.5 68.9 221.3 69.5 222.7 70 223.6 70.6 223.9 71.2 223.7 71.8 223 72.3 222.2 72.9 221.2 73.5 220.2 74.1 219.1 74.7 217.8 75.2 216.3 75.8 214.9 76.4 213.4 77 212.1 77.5 210.8 78.1 209.5 78.7 208.3 79.3 207.1 79.8 206 80.4 205.2 81 204.5 81.6 203.9 82.1 203.5 82.7 203.2 83.3 203 83.9 202.8 84.4 202.8 85 202.9 85.6 203.1 86.2 203.4 86.8 203.5 87.3 203.5 87.9 203.4 88.5 203.1 89.1 202.8 89.6 202.5 90.2 202.2 90.8 202.2 91.4 202.3 91.9 202.7 92.5 203.2 93.1 203.7 93.7 204 94.2 204 94.8 203.7 95.4 203.3 96 202.7 96.6 202 97.1 201.2 97.7 200.5 98.3 199.7 98.9 198.8 99.4 197.8 100 196.9 100.6 196.2 101.2 195.9 101.7 196 102.3 196.4 102.9 197.1 103.5 197.8 104 198.6 104.6 199.4 105.2 200.2 105.8 201.1 106.4 202 107 202.8 107.6 203.6 108.1 204 108.7 204.1 109.2 203.5 110 202.8 110.4 202.6 110.9 202.4 111.4 202.2 111.9 201.9 112.5 201.6 113.1 201.4 113.6 201.1 114.1 200.8 114.6 200.5 115.3 200 115.8 199.4 116.4 198.7 117 198.2 117.5 198 118.1 198.2 118.6 198.9 119.2 200 119.8 201.3 120.4 202.9 121 204.6 121.5 206.3 122.1 208.2 122.7 210.5 123.3 212.9 123.9 215.2 124.4 217.3 125 219 125.6 220.7 126.1 222.1 126.7 223.2 127.2 223.8 127.8 223.6 128.3 222.6 128.9 220.8 129.5 218.5 130.1 215.9 130.7 213.2 131.3 210.8 131.9 207.9 132.5 204.9 133.1 201.9 133.7 199.2 134.2 197.1 134.8 194.6 135.4 192.8 135.9 191.7 136.5 191.3 137 191.5 137.6 191.9 138.2 192.8 138.8 193.9 139.4 195.3 140 197.1 140.6 199.4 141.2 202.3 141.8 205.5 142.4 208.8 142.9 211.8 143.4 214.4 144.1 217.4 144.7 220 145.2 222.1 145.7 223.6 146.3 224.8 146.9 225.5 147.5 225.6 148 224.8 148.6 223 149.2 220.4 149.8 217.1 150.3 213.2 150.9 208.4 151.5 202.6 152.1 197 152.7 192.5 153.2 189.3 153.8 186.9 154.4 185.3 155 184.4 155.5 184.2 156.1 184.7 156.7 186 157.3 187.8 157.8 190.5 158.4 193.8 158.9 197.7 159.6 201.7 160.1 205.3 160.7 209.4 161.4 213.5 162 217.2 162.6 220.2 163.2 222.8 163.7 224.7 164.3 225.8 164.9 225.9 165.4 225.4 165.9 224.4 166.5 222.8 167.1 220.6 167.6 217.8 168.2 214 168.8 209.1 169.3 203.8 169.9 198.8 170.4 194.8 171 190.9 171.5 187.8 172.1 185.5 172.7 184.4 173.3 184.3 173.9 185 174.5 186.3 175.1 188.1 175.7 190.2 176.3 193.4 176.9 197.4 177.5 201.9 178 206.3 178.6 211.3 179.1 216.8 179.7 221.7 180.3 224.8 180.9 225.5 181.5 225 182.1 223.8 182.7 222 183.3 220.2 183.9 217.9 184.5 215.1 185 212 185.6 208.9 186.1 206.3 186.8 202.6 187.4 199.4 188 197.1 188.6 195.6 189.2 195 189.8 195.9 190.3 197.5 190.9 199.7 191.5 202.5 192.1 205.5 192.6 208.6 193.2 212.9 193.8 217.8 194.4 222.7 194.9 227.1 195.5 231.4 196 235.7 196.6 239.2 197.2 240.9 197.7 240.7 198.3 239.4 198.8 237.3 199.4 234.6 200 231.7 200.6 228.2 201.1 223.9 201.7 219.3 202.4 214.8 203 210.9 203.6 208.1 204.2 205.3 204.8 202.8 205.4 200.5 206 198.6 206.4 197.1 207.1 195.2 207.7 194.8 208.3 195.9 208.8 197.4 209.4 199.6 209.9 202.3 210.5 205.3 211.1 208.6 211.7 213.5 212.2 219.1 212.8 224.7 213.4 229.4 213.9 233.5 214.5 237.2 215.1 239.9 215.7 240.9 216.2 240.2 216.7 238.4 217.3 235.8 217.9 232.7 218.4 229.4 219 225.6 219.6 221 220.3 216.3 220.9 212 221.4 208.6 222.1 205.8 222.6 204.1 223.2 203.1 223.7 202.8 224.3 203.1 224.8 204.1 225.4 205.8 226 208.6 226.6 211.3 227.2 214.8 227.8 218.7 228.4 222.7 229 226.4 229.5 229.4 230.1 233.1 230.7 236.4 231.2 238.7 231.8 239.8 232.3 239.5 232.9 238.6 233.5 237.1 234.1 235.3 234.7 233.5 235.3 231.7 235.9 229.5 236.5 226.9 237.1 224.4 237.7 222 238.3 220.2 238.8 218.8 239.4 217.6 240 216.9 240.5 216.5 241 216.7 241.6 217.7 242.2 219.6 242.8 222 243.3 224.8 243.9 228.5 244.5 233 245 237.2 245.6 239.8 246.2 240.3 246.7 239.9 247.3 238.8 247.8 237.5 248.4 236.3 249 235.1 249.6 233.6 250.2 232 250.8 230.6 251.4 229.4 252 228.2 252.5 227.2 253.1 226.7 253.7 226.6 254.2 227.1 254.8 227.9 255.4 228.9 256.1 230 256.6 231 257.2 231.7 257.8 232.4 258.3 233 258.8 233.2 259.5 232.8 260 232.1 260.6 230.9 261.2 229.5 261.8 228.1 262.4 226.8 262.9 225.9 263.6 225 264.1 224.3 264.7 224.1 265.2 224.8 265.7 226.3 266.3 228.6 266.8 231.2 267.4 233.6 268 235.3 268.5 236.1 269.1 236.6 269.7 236.8 270.3 236.8 270.9 236.7 271.5 236.5 272.1 236.2 272.6 235.7 273.2 235 273.8 234.3 274.4 233.6 274.9 233 275.5 232.4 276.1 231.7 276.7 231.1 277.3 230.4 277.9 229.9 278.4 229.5 278.9 229.3 279.4 229.1 279.9 229 280.4 229 280.9 229.2 281.4 229.5 281.9 230.1 282.5 230.8 283.1 231.7 283.7 232.6 284.2 233.6 284.8 234.5 285.4 235.3 286 236.2 286.5 237.2 287.1 238.1 287.7 239 288.3 239.6 288.8 240 289.4 240 290 239.7 290.6 239.2 291.1 238.7 291.7 238.1 292.3 237.6 292.9 237.2 293.4 236.7 294 236.3 294.5 235.8 295.1 235.5 295.8 235.3 296.2 235.3 296.7 235.3 297.2 235.4 297.7 235.5 298.3 235.7 298.8 235.9 299.3 236.1 299.9 236.3 300.4 236.5 300.9 236.7 301.5 236.9 302 237.2 302.5 237.4 303.1 237.7 303.6 238 304.1 238.3 304.6 238.5 305 238.8 305.7 239.3 306.3 239.9 306.8 240.5 307.4 240.9 307.9 241.2 308.5 241.1 309.1 240.6 309.7 239.8 310.2 238.7 310.8 237.6 311.4 236.4 312 235.3 312.6 234.2 313.1 232.9 313.7 231.6 314.3 230.5 314.9 229.8 315.4 229.5 316 230 316.6 231 317.2 232.4 317.8 234 318.3 235.4 318.9 236.5 319.5 237.3 320 238 320.6 238.7 321.1 239.2 321.7 239.6 322.4 240 322.8 240.1 323.3 240.2 323.8 240.2 324.4 240.1 324.9 240.1 325.4 240 326 239.9 326.5 239.9 327 240 327.5 240 328 240.2 328.6 240.3 329.1 240.5 329.6 240.6 330.1 240.8 330.6 240.9 331.1 241 331.6 241.1 332.2 241.2 332.7 241.2 333.2 241.2 333.7 241.1 334.2 241.1 334.7 241.1 335.2 241.1 335.8 241.1 336.3 241.1 336.8 241.2 337.3 241.3 337.8 241.4 338.3 241.5 338.8 241.7 339.4 241.8 339.9 242 340.4 242.1 340.9 242.3 341.4 242.4 341.9 242.5 342.5 242.7 343 242.8 343.5 242.9 344 243 344.5 243.2 345 243.3 345.5 243.4 346.2 243.6 346.8 243.8 347.5 244 348.1 244.2 348.7 244.3 349.1 244.5 349.5 244.6" stroke="#000" stroke-width="1.0" fill="none" stroke-linejoin="round" clip-path="url(#cc)"/>
<path d="M32 287.8 32.4 288.9 32.7 288.3 33.1 284.2 33.4 295.6 33.8 281.4 34.1 282.3 34.5 282.4 34.8 277.3 35.2 297.8 35.5 265 35.9 292.5 36.2 275.6 36.6 290.2 36.9 287.3 37.3 280.1 37.6 297.5 38 276.4 38.3 292.4 38.7 283.7 39 296 39.4 287.7 39.7 300.3 40.1 286.1 40.4 302.4 40.8 284.8 41.1 299 41.5 290.4 41.8 302.2 42.2 295.7 42.5 298.1 42.9 297.5 43.2 298.9 43.6 300.8 43.9 299.4 44.3 300.4 44.6 301.5 45 295.7 45.3 310.8 45.7 297.3 46 316 46.4 308.7 46.7 301.9 47.1 313.8 47.4 296.7 47.8 307.1 48.1 299.3 48.5 299.2 48.8 302.6 49.2 293.8 49.5 303.1 49.9 291.6 50.2 295.9 50.6 308.4 50.9 302.3 51.3 301.4 51.6 302.2 52 311.2 52.3 292.4 52.7 296.7 53 308.5 53.4 301.8 53.7 300.6 54.1 300.6 54.4 307.1 54.8 294.6 55.1 298 55.5 290.4 55.8 302.2 56.2 285.4 56.5 290.3 56.9 280.7 57.2 278.6 57.6 276.6 57.9 276.9 58.3 275.1 58.6 280.5 59 277.4 59.3 269 59.7 273 60 265.6 60.4 274.3 60.7 273.6 61.1 263 61.4 275 61.8 286.7 62.1 279.6 62.5 287.1 62.8 285.9 63.2 289.7 63.5 287.8 63.9 289.6 64.2 296.9 64.6 286.7 64.9 297.4 65.3 293.5 65.6 300.9 66 306.9 66.3 304.1 66.7 312.1 67 300.5 67.4 319.5 67.7 308.2 68.1 316.1 68.4 306.3 68.8 306.4 69.1 310.2 69.5 301.1 69.8 302.1 70.2 316.3 70.5 302.6 70.9 304.6 71.2 295.8 71.6 309.2 71.9 304.6 72.3 304.6 72.6 293.5 73 314.5 73.3 309.4 73.7 295.3 74 308.5 74.4 284.7 74.7 296.9 75.1 297.8 75.4 282.1 75.8 296.3 76.1 282.6 76.5 287.2 76.8 278.9 77.2 276.8 77.5 279.1 77.9 277.2 78.2 284 78.6 276 78.9 286.2 79.3 272 79.6 280.5 80 282.5 80.3 283.1 80.7 279.2 81 275.3 81.4 284.6 81.7 281.2 82.1 284.5 82.4 284.5 82.8 295.1 83.1 287.1 83.5 290.7 83.8 285.4 84.2 288.1 84.5 291.7 84.9 287.7 85.2 289.4 85.6 289.2 85.9 292.4 86.3 282.8 86.6 293.2 87 282.4 87.3 289.3 87.7 283.5 88 282.3 88.4 283.5 88.7 278.9 89.1 279.9 89.4 278.3 89.8 274.2 90.1 284.5 90.5 272.5 90.8 284.5 91.2 281.1 91.5 285.7 91.9 277.9 92.2 283.9 92.6 284.1 92.9 284.1 93.3 284.6 93.6 283.5 94 282.9 94.3 273 94.7 286 95 272 95.4 278.9 95.7 268.2 96.1 278.4 96.4 265.3 96.8 279.1 97.1 274.7 97.5 273.5 97.8 271.2 98.2 280.5 98.5 278.7 98.9 283.7 99.2 274.7 99.6 283.1 99.9 275.8 100.3 286.8 100.6 275.7 101 281.4 101.3 285.3 101.7 277.4 102 286.7 102.4 281 102.7 290.5 103.1 283.6 103.4 290.1 103.8 281.6 104.1 289.4 104.5 281.2 104.8 293.3 105.2 280.2 105.5 292.5 105.9 281.1 106.2 295.3 106.6 294.1 106.9 273.6 107.3 296.8 107.6 275.7 108 294 108.3 278.7 108.7 283.8 109 281.2 109.4 281.3 109.7 287.4 110.1 285 110.4 284.6 110.8 279.8 111.1 279.3 111.5 284.6 111.8 282.7 112.2 277.2 112.5 281.2 112.9 274.7 113.2 279.5 113.6 274.9 113.9 277.4 114.3 271.7 114.6 268.7 115 271.7 115.3 273.4 115.7 269.7 116 263.8 116.4 273.5 116.7 267.5 117.1 272 117.4 270.9 117.8 273 118.1 271.8 118.5 266.3 118.8 280.3 119.2 276.1 119.5 278.5 119.9 279.4 120.2 279.6 120.6 285.9 120.9 289.4 121.3 286.6 121.6 293.8 122 296.5 122.3 304.5 122.7 299.4 123 299.1 123.4 309.2 123.7 306.6 124.1 308.3 124.4 307.6 124.8 308.4 125.1 302.2 125.5 312 125.8 310.3 126.2 298.4 126.5 302.9 126.9 300.7 127.2 303.5 127.6 291.2 127.9 302.5 128.3 287 128.6 294.6 129 286.5 129.3 283.6 129.7 284 130 281.1 130.4 274.7 130.7 280.3 131.1 274.4 131.4 280.2 131.8 270 132.1 278.5 132.5 264.6 132.8 274.9 133.2 265.9 133.5 268.7 133.9 262.6 134.2 262 134.6 268.6 134.9 256.1 135.3 272.8 135.6 259.7 136 273.5 136.3 264.2 136.7 272 137 268.1 137.4 275.6 137.7 277.6 138.1 277.7 138.4 276.2 138.8 285.9 139.1 290.6 139.5 290.5 139.8 297.2 140.2 294.8 140.5 293.7 140.9 296.7 141.2 303.6 141.6 300.1 141.9 300.8 142.3 301.8 142.6 304.3 143 316.8 143.3 300 143.7 317.4 144 308 144.4 310.8 144.7 309.4 145.1 310.5 145.4 304.7 145.8 304.6 146.1 300.2 146.5 300.4 146.8 294 147.2 295.6 147.5 295.9 147.9 292.7 148.2 281.7 148.6 285.2 148.9 282.4 149.3 275.2 149.6 274.4 150 276.3 150.3 264.8 150.7 262 151 273 151.4 255.3 151.7 265.5 152.1 261.3 152.4 262.4 152.8 258.7 153.1 259.4 153.5 254.8 153.8 260.4 154.2 260 154.5 264.1 154.9 258.3 155.2 271.4 155.6 264.6 155.9 281.7 156.3 256.5 156.6 289.8 157 264.7 157.3 296.3 157.7 275.1 158 288.7 158.4 290.8 158.7 287.4 159.1 295.4 159.4 294.7 159.8 297.9 160.1 301.3 160.5 291.5 160.8 316.5 161.2 302.6 161.5 309.6 161.9 304.7 162.2 311.8 162.6 302.6 162.9 308.8 163.3 305.7 163.6 309.4 164 310.2 164.3 301.6 164.7 304.7 165 301.6 165.4 303.4 165.7 300.2 166.1 296.2 166.4 302.6 166.8 280.4 167.1 288.9 167.5 273.9 167.8 274.1 168.2 283.9 168.5 254.2 168.9 276 169.2 271.6 169.6 259.7 169.9 258.9 170.3 260.4 170.6 263 171 258.4 171.3 262.8 171.7 251.4 172 254.6 172.4 263.6 172.7 261.4 173.1 261.3 173.4 264.8 173.8 267.1 174.1 273.3 174.5 274.9 174.8 278.3 175.2 277 175.5 284.3 175.9 284.9 176.2 287.6 176.6 290.6 176.9 292.5 177.3 295.6 177.6 287.8 178 307.8 178.3 294.3 178.7 309.7 179 308 179.4 298.8 179.7 312 180.1 308 180.4 315.8 180.8 310.3 181.1 313.1 181.5 315.9 181.8 311.4 182.2 318.9 182.5 313.6 182.9 311.5 183.2 309.4 183.6 308.4 183.9 303.1 184.3 310.1 184.6 303.5 185 302.1 185.3 298.3 185.7 297.6 186 286.7 186.4 304 186.7 291.1 187.1 291.5 187.4 288.1 187.8 279.6 188.1 263.5 188.5 274.8 188.8 270.2 189.2 264.6 189.5 268.3 189.9 268.6 190.2 270.6 190.6 271.2 190.9 267.5 191.3 284.4 191.6 275.4 192 289.4 192.3 286 192.7 292.1 193 294.7 193.4 293.8 193.7 303.2 194.1 300.2 194.4 314.2 194.8 307.5 195.1 310.7 195.5 312.8 195.8 316.5 196.2 325.5 196.5 315.2 196.9 326 197.2 320.9 197.6 327.4 197.9 321.3 198.3 331.7 198.6 321.7 199 321 199.3 309.5 199.7 324.3 200 309.1 200.4 314.4 200.7 305.7 201.1 299.5 201.4 300.2 201.8 290.4 202.1 291.7 202.5 281.6 202.8 289 203.2 274.9 203.5 279.3 203.9 275.2 204.2 278.3 204.6 272.7 204.9 263.3 205.3 282.5 205.6 261.1 206 270 206.3 269.7 206.7 269.3 207 265.3 207.4 273.5 207.7 265.1 208.1 269.2 208.4 267.2 208.8 263.7 209.1 280.3 209.5 272.8 209.8 280.8 210.2 289.4 210.5 282.2 210.9 291 211.2 290.6 211.6 286.1 211.9 301.4 212.3 290 212.6 311.8 213 294.1 213.3 308.2 213.7 305.8 214 312.4 214.4 316.2 214.7 310.3 215.1 322.8 215.4 320.9 215.8 316.6 216.1 311.8 216.5 327 216.8 306.5 217.2 316.4 217.5 305.1 217.9 312.6 218.2 309.4 218.6 306 218.9 311.3 219.3 301.8 219.6 303.6 220 295.8 220.3 298.6 220.7 295 221 293.2 221.4 288.1 221.7 289.9 222.1 295.1 222.4 285.7 222.8 288.6 223.1 292.1 223.5 289.5 223.8 294.8 224.2 284.4 224.5 297.9 224.9 289.9 225.2 298.7 225.6 303.4 225.9 293.1 226.3 299.8 226.6 298.5 227 302.4 227.3 312.4 227.7 307.9 228 313.3 228.4 317.4 228.7 312.6 229.1 322.7 229.4 317.1 229.8 327.1 230.1 326.7 230.5 322.1 230.8 329 231.2 330.3 231.5 320.6 231.9 331 232.2 324 232.6 323.6 232.9 324.3 233.3 318.4 233.6 323.6 234 304.8 234.3 322.1 234.7 304.4 235 308.8 235.4 300.1 235.7 298.5 236.1 296.1 236.4 290.9 236.8 303.2 237.1 275.6 237.5 282.9 237.8 286.2 238.2 259.4 238.5 283.2 238.9 271.7 239.2 274.5 239.6 269.6 239.9 274.2 240.3 272.9 240.6 272.3 241 270.4 241.3 286.3 241.7 279.8 242 284.1 242.4 285.2 242.7 281.1 243.1 286 243.4 286.6 243.8 292.4 244.1 294.6 244.5 295.4 244.8 303.4 245.2 302.2 245.5 310 245.9 310.2 246.2 323.8 246.6 310.7 246.9 327.3 247.3 317.8 247.6 327 248 318.7 248.3 325.6 248.7 312.7 249 328.5 249.4 327.4 249.7 319.1 250.1 323.4 250.4 323 250.8 325.9 251.1 317.1 251.5 320.9 251.8 314.4 252.2 323.8 252.5 313.7 252.9 318.3 253.2 318.8 253.6 321.6 253.9 318.7 254.3 306.9 254.6 316.8 255 312.6 255.3 309.6 255.7 308 256 304.3 256.4 303.4 256.7 300.1 257.1 301.9 257.4 294.5 257.8 299.9 258.1 287.6 258.5 311.1 258.8 288.5 259.2 304 259.5 296.6 259.9 295.9 260.2 294.4 260.6 291.6 260.9 300.1 261.3 299.5 261.6 298.1 262 298.8 262.3 298.7 262.7 309.9 263 305.9 263.4 312.3 263.7 308.5 264.1 312.8 264.4 318.8 264.8 315.2 265.1 317 265.5 321.2 265.8 312.4 266.2 316.1 266.5 313.4 266.9 315.5 267.2 316.4 267.6 315.4 267.9 318.2 268.3 325.7 268.6 308.8 269 319.4 269.3 313.7 269.7 324.4 270 314.7 270.4 324 270.7 319.5 271.1 322.5 271.4 325.7 271.8 324.8 272.1 322.4 272.5 328.1 272.8 322.5 273.2 322.1 273.5 312.6 273.9 316.9 274.2 316.7 274.6 304.2 274.9 305.2 275.3 314.9 275.6 326.5 276 302.8 276.3 319 276.7 299.9 277 325.7 277.4 297.2 277.7 313.5 278.1 296.3 278.4 319.6 278.8 298.8 279.1 307.1 279.5 301.7 279.8 302.6 280.2 301.1 280.5 306.8 280.9 299.9 281.2 302.6 281.6 296.7 281.9 306 282.3 294.1 282.6 303.9 283 300.6 283.3 305.5 283.7 309.9 284 311.7 284.4 305.2 284.7 315.7 285.1 314.7 285.4 316.7 285.8 327.7 286.1 315.1 286.5 320.5 286.8 322.9 287.2 321.8 287.5 336.9 287.9 321.5 288.2 329.8 288.6 321.5 288.9 326.6 289.3 321.3 289.6 317.2 290 322.6 290.3 319.3 290.7 331.8 291 321.3 291.4 325.2 291.7 320.6 292.1 326 292.4 324.6 292.8 319.2 293.1 324.8 293.5 318.7 293.8 333.8 294.2 312 294.5 337.5 294.9 320.3 295.2 323.1 295.6 326.6 295.9 323.5 296.3 326.1 296.6 322 297 318.8 297.3 323 297.7 322.4 298 320.2 298.4 329.9 298.7 315.6 299.1 326.5 299.4 312.8 299.8 326.1 300.1 324 300.5 321.2 300.8 321.8 301.2 324.2 301.5 329.5 301.9 319.6 302.2 321.6 302.6 316 302.9 316.1 303.3 317.5 303.6 319 304 309.4 304.3 316.2 304.7 315.9 305 313.8 305.4 321.1 305.7 303.5 306.1 319.5 306.4 319.4 306.8 317.2 307.1 321.4 307.5 318.2 307.8 318.9 308.2 315.5 308.5 326.9 308.9 309.8 309.2 326.8 309.6 301.8 309.9 326.5 310.3 317.4 310.6 314.3 311 318 311.3 311.1 311.7 336.6 312 318.9 312.4 328.9 312.7 316.2 313.1 321.8 313.4 320.9 313.8 318.4 314.1 322.4 314.5 311.5 314.8 319.3 315.2 312.1 315.5 323.8 315.9 315.4 316.2 322.5 316.6 316.1 316.9 326.4 317.3 321.1 317.6 322.2 318 318.5 318.3 328.9 318.7 316.7 319 322.8 319.4 318.5 319.7 323.3 320.1 317.1 320.4 320.7 320.8 319.2 321.1 326.4 321.5 322.5 321.8 321.2 322.2 323.1 322.5 315.9 322.9 322.2 323.2 321.2 323.6 324.1 323.9 318.5 324.3 319.3 324.6 321 325 318.7 325.3 321.3 325.7 321.6 326 311.4 326.4 322.1 326.7 318.3 327.1 317.6 327.4 323.6 327.8 310.8 328.1 318 328.5 319.1 328.8 318.7 329.2 317 329.5 318.3 329.9 322 330.2 323.7 330.6 322.1 330.9 327.3 331.3 318 331.6 322.9 332 327 332.3 320.7 332.7 335.2 333 317.2 333.4 318.8 333.7 321 334.1 319.9 334.4 314.2 334.8 321.9 335.1 318.8 335.5 319.3 335.8 320.4 336.2 320.4 336.5 320.1 336.9 323.6 337.2 320.3 337.6 319.8 337.9 317.9 338.3 319.8 338.6 315.4 339 314.4 339.3 314.1 339.7 322.9 340 322.8 340.4 321.2 340.7 327.1 341.1 322.1 341.4 320.5 341.8 326.1 342.1 323.7 342.5 317.2 342.8 325.6 343.2 315.4 343.5 308.9 343.9 325.7 344.2 318.3 344.6 322 344.9 325 345.3 322.2 345.6 329.2 346 324.6 346.3 323.7 346.7 331.1 347 317.5 347.4 337.3 347.7 310.8 348.1 340.1 348.4 310.2 348.8 331.2 349.1 318.8 349.5 329.6" stroke="#727272" stroke-width="0.7" fill="none" clip-path="url(#cd)"/>
<path d="M32 288.5 32.4 287.8 33 286.8 33.7 285.8 34.3 285 34.9 284.4 35.5 283.9 36 283.7 36.6 283.8 37.2 284.5 37.7 285.5 38.3 286.8 38.9 288.5 39.4 289.8 40 291.3 40.6 292.9 41.2 294.6 41.8 296.2 42.4 297.7 43 299.4 43.6 301.2 44.2 302.8 44.8 304 45.4 304.6 45.9 304.4 46.5 303.5 47 302.3 47.5 301 48.1 300 48.7 299.4 49.2 298.8 49.8 298.3 50.4 297.8 51 297.2 51.6 296.5 52.2 295.8 52.8 295 53.4 294.1 54 293.1 54.5 292 55.1 290.8 55.7 288.9 56.2 286.8 56.8 284.5 57.3 282.3 57.8 280.4 58.4 278.1 59 276 59.5 274.3 60.1 273.5 60.7 273.5 61.3 274 61.9 275 62.5 276.4 63.1 278.1 63.7 280.3 64.3 283.1 64.9 286.1 65.5 289.2 66.1 291.9 66.7 294.5 67.3 297.1 67.8 299.6 68.4 301.8 68.9 303.5 69.5 304.8 70.1 305.6 70.6 305.9 71.2 305.8 71.8 305.3 72.3 304.3 72.9 303 73.5 301.2 74.1 298.6 74.7 295.5 75.2 292.3 75.8 289.6 76.4 287.6 76.9 286 77.5 284.7 78.1 283.8 78.6 283.4 79.2 283.2 79.7 283.2 80.3 283.4 80.9 283.8 81.5 284.8 82 286.2 82.6 287.8 83.2 289 83.9 289.6 84.4 289.4 85 288.8 85.6 287.8 86.2 286.8 86.7 285.8 87.3 285 87.9 284.5 88.5 284 89.1 283.6 89.6 283.3 90.2 283 90.8 282.7 91.4 282.5 91.9 282.3 92.5 282.2 93.1 282.1 93.7 281.9 94.2 281.5 94.8 281 95.4 280.3 96 279.5 96.6 278.8 97.1 278.3 97.7 278.1 98.3 278.3 98.9 278.7 99.4 279.4 100 280.1 100.6 280.9 101.2 281.5 101.7 282.2 102.3 282.9 102.9 283.6 103.5 284.2 104 284.7 104.6 285 105.2 285.1 105.8 284.9 106.4 284.6 107 284.3 107.6 284 108.1 283.8 108.8 284.1 109.3 284.4 110 283.8 110.5 282.9 111.1 281.5 111.7 280 112.3 278.3 112.9 276.9 113.5 275.8 114.1 274.8 114.7 274 115.3 273.4 115.9 273.2 116.5 273.5 117 274.1 117.6 275.1 118.1 276.5 118.7 278.3 119.2 280.4 119.8 283.2 120.4 286.7 120.9 290.4 121.5 293.8 122 296.5 122.6 299 123.1 300.9 123.7 302 124.3 302.3 124.8 301.9 125.4 301 126.1 299.5 126.7 297.6 127.3 295.4 127.9 292.4 128.5 288.7 129.1 284.7 129.7 281 130.3 278.1 130.8 275.9 131.4 274.2 131.9 272.9 132.5 272.1 133.1 271.6 133.6 271.6 134.2 271.8 134.7 272.3 135.3 273.1 135.9 274.3 136.5 275.8 137.1 277.8 137.7 280.4 138.2 283.4 138.8 286.4 139.4 289.4 140 291.9 140.5 294.3 141.1 296.7 141.7 299 142.3 301 142.9 302.5 143.4 303.5 144 303.8 144.6 303.7 145.2 303.2 145.8 302.2 146.4 300.7 146.9 298.8 147.5 295.6 148 291.3 148.6 286.5 149.1 281.9 149.7 278.1 150.2 274.9 150.8 272 151.4 269.5 152 267.7 152.7 266.5 153.3 266.2 153.9 266.7 154.5 267.7 155.1 269.2 155.6 271.2 156.2 273.6 156.7 276.8 157.3 280.3 157.8 283.9 158.4 287.3 159 290.2 159.5 293.5 160.1 296.7 160.7 299.6 161.3 302 161.9 303.5 162.5 304.1 163.1 304.1 163.6 303.6 164.2 302.5 164.8 300.9 165.3 298.8 165.9 295.2 166.5 290.3 167.1 284.9 167.6 279.8 168.1 275.8 168.7 272.2 169.2 269.4 169.8 267.5 170.4 266.5 171 266.4 171.5 266.7 172.1 267.6 172.8 269.1 173.4 271.2 174 273.5 174.5 276.4 175.1 279.7 175.7 283.1 176.3 286.5 176.9 289.6 177.4 292.7 178 295.9 178.6 299 179.2 301.8 179.7 304.2 180.3 305.8 180.9 306.6 181.5 306.9 182 306.6 182.6 305.9 183.2 304.9 183.8 303.5 184.4 301.6 185 299.1 185.7 296.2 186.3 293.2 186.8 290.2 187.2 287.3 187.7 278.1 188 271.2 188.5 270 189.1 270.8 189.8 273.5 190.3 276.2 190.9 279.8 191.5 283.9 192.1 288.1 192.6 291.9 193.2 296.3 193.8 300.6 194.4 304.7 194.9 308.1 195.5 311 196 313.6 196.6 315.5 197.2 316.2 197.7 315.8 198.3 314.7 198.8 313 199.4 310.8 200 308.1 200.6 304.6 201.1 300.2 201.7 295.6 202.4 291.1 203 287.3 203.5 284.7 204.1 282.2 204.7 280 205.3 278.1 205.9 276.7 206.4 275.8 207 275.4 207.6 275.8 208.1 276.8 208.7 278.3 209.2 280.4 209.8 283.3 210.4 287 211 291.2 211.6 295.3 212.2 298.8 212.8 302 213.4 305.2 214 308.1 214.6 310.3 215.2 311.5 215.8 311.6 216.3 310.7 216.9 309.2 217.5 307.4 218 305.8 218.6 303.6 219.2 301.1 219.7 298.6 220.3 296.5 220.8 294.8 221.4 293.4 222 292.3 222.6 291.9 223.1 292.1 223.6 292.6 224.2 293.4 224.8 294.7 225.3 296.5 225.9 299.2 226.6 302.7 227.2 306.5 227.8 310 228.3 312.7 229 314.8 229.5 316.2 230 317 230.7 317.3 231.2 317.4 231.8 317.2 232.4 316.6 233.1 315.6 233.6 313.8 234.2 311.2 234.7 307.7 235.3 303.8 235.8 299.9 236.4 296.5 237 293.9 237.5 291.2 238.1 288.6 238.7 286.4 239.3 284.7 239.9 283.8 240.5 284 241.1 285.1 241.7 286.9 242.3 289.3 242.9 291.9 243.4 295.1 244 299.1 244.5 303.2 245 307.2 245.6 310.4 246.2 312.5 246.7 314.3 247.3 315.9 247.9 317.1 248.5 318 249.1 318.5 249.7 318.5 250.2 318 250.8 317.2 251.4 316.1 252 315 252.6 313.8 253.1 312.7 253.7 311.3 254.3 309.9 254.9 308.4 255.5 307 256 305.8 256.6 304.3 257.2 302.7 257.8 301.4 258.4 300.4 259 300 259.5 300.3 260.1 300.9 260.6 301.9 261.2 303.2 261.7 304.5 262.2 305.8 262.9 307.5 263.5 309.5 264.1 311.6 264.7 313.5 265.2 315 265.8 316 266.3 316.7 266.9 317.1 267.4 317.3 268 317.5 268.5 317.5 269.1 317.5 269.7 317.3 270.3 317 270.9 316.7 271.5 316.3 272.1 315.9 272.6 315.4 273.2 314.9 273.8 314.3 274.4 313.6 274.9 312.9 275.5 312 276.1 310.9 276.8 309.8 277.3 308.7 277.9 307.8 278.4 307.1 279.1 306.4 279.6 306 280.2 306 280.7 306.4 281.3 307.2 281.8 308.5 282.4 310 283 311.7 283.6 313 284.1 314.4 284.7 315.9 285.3 317.4 285.9 318.8 286.5 319.8 287.1 320.6 287.7 321.1 288.2 321.5 288.8 321.8 289.4 322 290 322.1 290.6 322.1 291.1 322 291.6 321.8 292.2 321.5 292.8 321.2 293.5 321 293.9 320.8 294.4 320.7 294.9 320.6 295.4 320.4 296 320.3 296.5 320.2 297 320.1 297.6 319.9 298.1 319.8 298.6 319.7 299.1 319.5 299.6 319.4 300.1 319.3 300.7 319.2 301.2 319 301.7 318.9 302.2 318.8 302.7 318.6 303.2 318.5 303.8 318.4 304.3 318.2 304.8 318 305.4 317.9 305.9 317.8 306.4 317.6 306.9 317.5 307.3 317.5 308 317.5 308.6 317.5 309.2 317.5 309.7 317.6 310.2 317.8 310.8 317.9 311.4 318.2 311.9 318.4 312.5 318.8 313 319.1 313.6 319.4 314.3 319.8 314.7 320.1 315.2 320.4 315.7 320.7 316.3 321.1 316.8 321.4 317.3 321.7 317.9 321.9 318.4 322.1 318.9 322.1 319.4 322 319.9 321.8 320.5 321.6 321 321.2 321.5 320.8 322 320.5 322.5 320.2 323 319.9 323.5 319.8 324.1 319.8 324.6 319.8 325.1 319.9 325.7 320 326.2 320.2 326.7 320.4 327.2 320.6 327.7 320.8 328.2 321 328.8 321.3 329.4 321.8 330 322.3 330.5 322.7 331.1 323.1 331.6 323.3 332.2 323.3 332.8 323.1 333.3 322.9 333.9 322.6 334.5 322.3 335.1 322.1 335.6 322 336.1 321.8 336.6 321.6 337.2 321.4 337.7 321.2 338.2 321.1 338.8 321 339.3 320.9 339.7 321 340.4 321.2 341 321.5 341.6 322 342.1 322.5 342.6 322.9 343.2 323.3 343.8 323.6 344.4 323.8 345 324.1 345.6 324.3 346.1 324.4 346.7 324.4 347.3 324.3 348 324.1 348.6 323.8 349.1 323.5 349.5 323.3" stroke="#000" stroke-width="1.0" fill="none" stroke-linejoin="round" clip-path="url(#cd)"/>
<path d="M32.0 71.6h3M349.5 71.6h-3M32.0 49.9h3M349.5 49.9h-3M32.0 28.2h3M349.5 28.2h-3M71.4 12.0v3M71.4 93.25v-3M111.1 12.0v3M111.1 93.25v-3M150.8 12.0v3M150.8 93.25v-3M190.5 12.0v3M190.5 93.25v-3M230.2 12.0v3M230.2 93.25v-3M269.9 12.0v3M269.9 93.25v-3M309.6 12.0v3M309.6 93.25v-3M32.0 152.8h3M349.5 152.8h-3M32.0 131.2h3M349.5 131.2h-3M32.0 109.5h3M349.5 109.5h-3M71.4 93.25v3M71.4 174.5v-3M111.1 93.25v3M111.1 174.5v-3M150.8 93.25v3M150.8 174.5v-3M190.5 93.25v3M190.5 174.5v-3M230.2 93.25v3M230.2 174.5v-3M269.9 93.25v3M269.9 174.5v-3M309.6 93.25v3M309.6 174.5v-3M32.0 234.1h3M349.5 234.1h-3M32.0 212.4h3M349.5 212.4h-3M32.0 190.8h3M349.5 190.8h-3M71.4 174.5v3M71.4 255.75v-3M111.1 174.5v3M111.1 255.75v-3M150.8 174.5v3M150.8 255.75v-3M190.5 174.5v3M190.5 255.75v-3M230.2 174.5v3M230.2 255.75v-3M269.9 174.5v3M269.9 255.75v-3M309.6 174.5v3M309.6 255.75v-3M32.0 315.3h3M349.5 315.3h-3M32.0 293.7h3M349.5 293.7h-3M32.0 272h3M349.5 272h-3M71.4 255.75v3M71.4 337.0v-3M111.1 255.75v3M111.1 337.0v-3M150.8 255.75v3M150.8 337.0v-3M190.5 255.75v3M190.5 337.0v-3M230.2 255.75v3M230.2 337.0v-3M269.9 255.75v3M269.9 337.0v-3M309.6 255.75v3M309.6 337.0v-3" stroke="#262626" stroke-width="0.9" fill="none"/>
<path d="M32.0 93.4H349.5M32.0 174.5H349.5M32.0 256.0H349.5" stroke="#262626" stroke-width="1.0" fill="none"/>
<path d="M32.0 11.5V337.5M349.5 11.5V337.5M31.5 12H350.0M31.5 337H350.0" stroke="#262626" stroke-width="1" fill="none"/>
<g fill="#0072bd" style="font-family:'Liberation Serif',serif;font-size:12px"><path transform="translate(34.70 0)" d="M1.2 3.0C1.0 5.0 1.5 7.0 2.4 7.6C3.5 8.3 5.5 7.8 6.5 6.5C7.5 5.2 7.3 3.2 5.8 3.0C4.4 2.8 3.4 5.0 2.8 7.0L2.3 9.9" stroke="#0072bd" stroke-width="0.95" fill="none" stroke-linecap="round"/><text transform="translate(46.20 10.20) scale(1.3 1)" >=</text><text x="57.20" y="9.30" >0</text><text x="63.60" y="9.30" >&#176;</text></g>
<g fill="#d95319" style="font-family:'Liberation Serif',serif;font-size:12px"><path transform="translate(79.90 0)" d="M1.2 3.0C1.0 5.0 1.5 7.0 2.4 7.6C3.5 8.3 5.5 7.8 6.5 6.5C7.5 5.2 7.3 3.2 5.8 3.0C4.4 2.8 3.4 5.0 2.8 7.0L2.3 9.9" stroke="#d95319" stroke-width="0.95" fill="none" stroke-linecap="round"/><text transform="translate(91.40 10.20) scale(1.3 1)" >=</text><text x="102.40" y="9.30" >60</text><text x="114.80" y="9.30" >&#176;</text></g>
<g fill="#edb120" style="font-family:'Liberation Serif',serif;font-size:12px"><path transform="translate(130.40 0)" d="M1.2 3.0C1.0 5.0 1.5 7.0 2.4 7.6C3.5 8.3 5.5 7.8 6.5 6.5C7.5 5.2 7.3 3.2 5.8 3.0C4.4 2.8 3.4 5.0 2.8 7.0L2.3 9.9" stroke="#edb120" stroke-width="0.95" fill="none" stroke-linecap="round"/><text transform="translate(141.90 10.20) scale(1.3 1)" >=</text><text x="152.90" y="9.30" >120</text><text x="171.30" y="9.30" >&#176;</text></g>
<g fill="#7e2f8e" style="font-family:'Liberation Serif',serif;font-size:12px"><path transform="translate(187.50 0)" d="M1.2 3.0C1.0 5.0 1.5 7.0 2.4 7.6C3.5 8.3 5.5 7.8 6.5 6.5C7.5 5.2 7.3 3.2 5.8 3.0C4.4 2.8 3.4 5.0 2.8 7.0L2.3 9.9" stroke="#7e2f8e" stroke-width="0.95" fill="none" stroke-linecap="round"/><text transform="translate(199.00 10.20) scale(1.3 1)" >=</text><text x="210.00" y="9.30" >180</text><text x="228.40" y="9.30" >&#176;</text></g>
<g fill="#77ac30" style="font-family:'Liberation Serif',serif;font-size:12px"><path transform="translate(244.40 0)" d="M1.2 3.0C1.0 5.0 1.5 7.0 2.4 7.6C3.5 8.3 5.5 7.8 6.5 6.5C7.5 5.2 7.3 3.2 5.8 3.0C4.4 2.8 3.4 5.0 2.8 7.0L2.3 9.9" stroke="#77ac30" stroke-width="0.95" fill="none" stroke-linecap="round"/><text transform="translate(255.90 10.20) scale(1.3 1)" >=</text><text x="266.90" y="9.30" >240</text><text x="285.30" y="9.30" >&#176;</text></g>
<g fill="#4dbeee" style="font-family:'Liberation Serif',serif;font-size:12px"><path transform="translate(301.40 0)" d="M1.2 3.0C1.0 5.0 1.5 7.0 2.4 7.6C3.5 8.3 5.5 7.8 6.5 6.5C7.5 5.2 7.3 3.2 5.8 3.0C4.4 2.8 3.4 5.0 2.8 7.0L2.3 9.9" stroke="#4dbeee" stroke-width="0.95" fill="none" stroke-linecap="round"/><text transform="translate(312.90 10.20) scale(1.3 1)" >=</text><text x="323.90" y="9.30" >300</text><text x="342.30" y="9.30" >&#176;</text></g>
<g style="font-family:'Liberation Serif',serif;font-size:12px" fill="#000" stroke="#000" stroke-width="0.05"><text transform="translate(35.60 24.00) scale(1 1.06)" >(</text><text x="39.60" y="23.00" >a</text><text transform="translate(44.63 24.00) scale(1 1.06)" >)</text></g>
<text x="311.6" y="23.00" style="font-family:'Liberation Serif',serif;font-size:11.2px" fill="#000" stroke="#000" stroke-width="0.05">MMS1</text>
<text x="28.3" y="76.0" text-anchor="end" style="font-family:'Liberation Sans',sans-serif;font-size:10.8px" fill="#262626">20</text>
<text x="28.3" y="54.3" text-anchor="end" style="font-family:'Liberation Sans',sans-serif;font-size:10.8px" fill="#262626">40</text>
<text x="28.3" y="32.6" text-anchor="end" style="font-family:'Liberation Sans',sans-serif;font-size:10.8px" fill="#262626">60</text>
<g style="font-family:'Liberation Serif',serif;font-size:12px" fill="#000" stroke="#000" stroke-width="0.05"><text transform="translate(35.60 105.25) scale(1 1.06)" >(</text><text x="39.60" y="104.25" >b</text><text transform="translate(45.30 105.25) scale(1 1.06)" >)</text></g>
<text x="311.6" y="104.25" style="font-family:'Liberation Serif',serif;font-size:11.2px" fill="#000" stroke="#000" stroke-width="0.05">MMS2</text>
<text x="28.3" y="157.2" text-anchor="end" style="font-family:'Liberation Sans',sans-serif;font-size:10.8px" fill="#262626">20</text>
<text x="28.3" y="135.6" text-anchor="end" style="font-family:'Liberation Sans',sans-serif;font-size:10.8px" fill="#262626">40</text>
<text x="28.3" y="113.9" text-anchor="end" style="font-family:'Liberation Sans',sans-serif;font-size:10.8px" fill="#262626">60</text>
<g style="font-family:'Liberation Serif',serif;font-size:12px" fill="#000" stroke="#000" stroke-width="0.05"><text transform="translate(35.60 186.50) scale(1 1.06)" >(</text><text x="39.60" y="185.50" >c</text><text transform="translate(45.30 186.50) scale(1 1.06)" >)</text></g>
<text x="311.6" y="185.50" style="font-family:'Liberation Serif',serif;font-size:11.2px" fill="#000" stroke="#000" stroke-width="0.05">MMS3</text>
<text x="28.3" y="238.5" text-anchor="end" style="font-family:'Liberation Sans',sans-serif;font-size:10.8px" fill="#262626">20</text>
<text x="28.3" y="216.8" text-anchor="end" style="font-family:'Liberation Sans',sans-serif;font-size:10.8px" fill="#262626">40</text>
<text x="28.3" y="195.2" text-anchor="end" style="font-family:'Liberation Sans',sans-serif;font-size:10.8px" fill="#262626">60</text>
<g style="font-family:'Liberation Serif',serif;font-size:12px" fill="#000" stroke="#000" stroke-width="0.05"><text transform="translate(35.60 267.75) scale(1 1.06)" >(</text><text x="39.60" y="266.75" >d</text><text transform="translate(45.30 267.75) scale(1 1.06)" >)</text></g>
<text x="311.6" y="266.75" style="font-family:'Liberation Serif',serif;font-size:11.2px" fill="#000" stroke="#000" stroke-width="0.05">MMS4</text>
<text x="28.3" y="319.7" text-anchor="end" style="font-family:'Liberation Sans',sans-serif;font-size:10.8px" fill="#262626">20</text>
<text x="28.3" y="298.1" text-anchor="end" style="font-family:'Liberation Sans',sans-serif;font-size:10.8px" fill="#262626">40</text>
<text x="28.3" y="276.4" text-anchor="end" style="font-family:'Liberation Sans',sans-serif;font-size:10.8px" fill="#262626">60</text>
<g style="font-family:'Liberation Serif',serif;font-size:11.5px" fill="#000" stroke="#000" stroke-width="0.05"><text transform="translate(39.40 90.90) scale(1.05 1.1)" font-style="italic">f</text><text transform="translate(47.80 90.90) scale(1.5 1.05)" >&lt;</text><text transform="translate(59.30 90.90) scale(0.96 1)" >0.79</text><text x="80.30" y="90.90" >Hz</text></g>
<text x="71.2" y="351" text-anchor="middle" style="font-family:'Liberation Sans',sans-serif;font-size:10.3px" fill="#262626">00:32:45</text>
<text x="190.3" y="351" text-anchor="middle" style="font-family:'Liberation Sans',sans-serif;font-size:10.3px" fill="#262626">00:33:00</text>
<text x="309.40000000000003" y="351" text-anchor="middle" style="font-family:'Liberation Sans',sans-serif;font-size:10.3px" fill="#262626">00:33:15</text>
<g transform="translate(9.9 189.5) rotate(-90)" style="font-family:'Liberation Serif',serif;font-size:12px" fill="#000"><text x="0" y="0"><tspan font-style="italic">B</tspan> [nT]</text></g>
</svg>
</body></html>
